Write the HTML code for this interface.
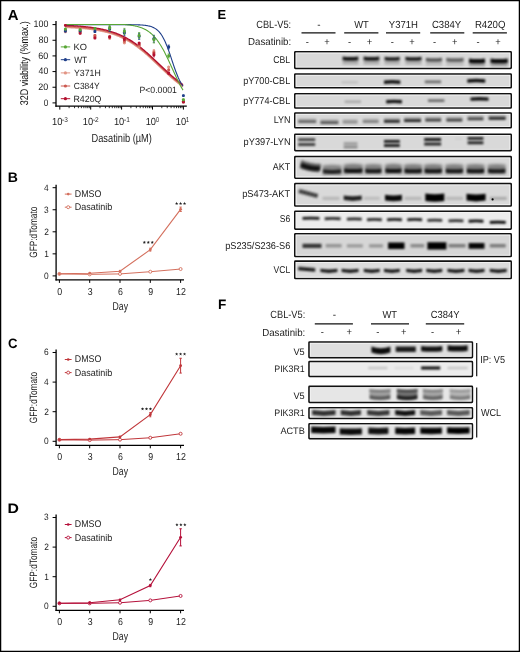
<!DOCTYPE html>
<html><head><meta charset="utf-8"><style>
html,body{margin:0;padding:0;background:#fff;}
svg{display:block;will-change:transform;}
text{font-family:"Liberation Sans", sans-serif;text-rendering:geometricPrecision;}
</style></head><body>
<svg width="520" height="652" viewBox="0 0 520 652">
<defs><filter id="b3" x="-30%" y="-100%" width="160%" height="300%"><feGaussianBlur stdDeviation="0.3"/></filter><filter id="b4" x="-30%" y="-100%" width="160%" height="300%"><feGaussianBlur stdDeviation="0.4"/></filter><filter id="b5" x="-30%" y="-100%" width="160%" height="300%"><feGaussianBlur stdDeviation="0.5"/></filter><filter id="b6" x="-30%" y="-100%" width="160%" height="300%"><feGaussianBlur stdDeviation="0.6"/></filter><filter id="b7" x="-30%" y="-100%" width="160%" height="300%"><feGaussianBlur stdDeviation="0.7"/></filter><filter id="b8" x="-30%" y="-100%" width="160%" height="300%"><feGaussianBlur stdDeviation="0.8"/></filter><filter id="b9" x="-30%" y="-100%" width="160%" height="300%"><feGaussianBlur stdDeviation="0.9"/></filter><filter id="b10" x="-30%" y="-100%" width="160%" height="300%"><feGaussianBlur stdDeviation="1.0"/></filter><filter id="b11" x="-30%" y="-100%" width="160%" height="300%"><feGaussianBlur stdDeviation="1.1"/></filter><filter id="b12" x="-30%" y="-100%" width="160%" height="300%"><feGaussianBlur stdDeviation="1.2"/></filter><filter id="b13" x="-30%" y="-100%" width="160%" height="300%"><feGaussianBlur stdDeviation="1.3"/></filter><filter id="b14" x="-30%" y="-100%" width="160%" height="300%"><feGaussianBlur stdDeviation="1.4"/></filter><filter id="b15" x="-30%" y="-100%" width="160%" height="300%"><feGaussianBlur stdDeviation="1.5"/></filter><filter id="b16" x="-30%" y="-100%" width="160%" height="300%"><feGaussianBlur stdDeviation="1.6"/></filter><filter id="b17" x="-30%" y="-100%" width="160%" height="300%"><feGaussianBlur stdDeviation="1.7"/></filter><filter id="b18" x="-30%" y="-100%" width="160%" height="300%"><feGaussianBlur stdDeviation="1.8"/></filter><filter id="b19" x="-30%" y="-100%" width="160%" height="300%"><feGaussianBlur stdDeviation="1.9"/></filter><filter id="b20" x="-30%" y="-100%" width="160%" height="300%"><feGaussianBlur stdDeviation="2.0"/></filter><filter id="b21" x="-30%" y="-100%" width="160%" height="300%"><feGaussianBlur stdDeviation="2.1"/></filter><filter id="b22" x="-30%" y="-100%" width="160%" height="300%"><feGaussianBlur stdDeviation="2.2"/></filter><filter id="b23" x="-30%" y="-100%" width="160%" height="300%"><feGaussianBlur stdDeviation="2.3"/></filter><filter id="b24" x="-30%" y="-100%" width="160%" height="300%"><feGaussianBlur stdDeviation="2.4"/></filter></defs>
<rect x="0" y="0" width="520" height="652" fill="#fff"/>
<text x="7.73" y="19.60" font-size="14.7" textLength="10.76" lengthAdjust="spacingAndGlyphs" font-weight="bold" fill="#000">A</text>
<line x1="56.00" y1="21.00" x2="56.00" y2="106.80" stroke="#000" stroke-width="1.3" />
<line x1="55.40" y1="106.20" x2="186.80" y2="106.20" stroke="#000" stroke-width="1.3" />
<line x1="52.50" y1="102.90" x2="56.00" y2="102.90" stroke="#000" stroke-width="1.0" />
<text x="43.78" y="105.65" font-size="9.45" textLength="4.54" lengthAdjust="spacingAndGlyphs" fill="#1c1c1c">0</text>
<line x1="52.50" y1="87.24" x2="56.00" y2="87.24" stroke="#000" stroke-width="1.0" />
<text x="38.35" y="89.99" font-size="9.45" textLength="10.00" lengthAdjust="spacingAndGlyphs" fill="#1c1c1c">20</text>
<line x1="52.50" y1="71.58" x2="56.00" y2="71.58" stroke="#000" stroke-width="1.0" />
<text x="38.60" y="74.33" font-size="9.45" textLength="9.74" lengthAdjust="spacingAndGlyphs" fill="#1c1c1c">40</text>
<line x1="52.50" y1="55.92" x2="56.00" y2="55.92" stroke="#000" stroke-width="1.0" />
<text x="38.34" y="58.67" font-size="9.45" textLength="10.01" lengthAdjust="spacingAndGlyphs" fill="#1c1c1c">60</text>
<line x1="52.50" y1="40.26" x2="56.00" y2="40.26" stroke="#000" stroke-width="1.0" />
<text x="38.41" y="43.01" font-size="9.45" textLength="9.94" lengthAdjust="spacingAndGlyphs" fill="#1c1c1c">80</text>
<line x1="52.50" y1="24.60" x2="56.00" y2="24.60" stroke="#000" stroke-width="1.0" />
<text x="33.52" y="27.35" font-size="9.45" textLength="14.82" lengthAdjust="spacingAndGlyphs" fill="#1c1c1c">100</text>
<line x1="59.80" y1="106.20" x2="59.80" y2="109.60" stroke="#000" stroke-width="1.0" />
<line x1="69.10" y1="106.20" x2="69.10" y2="108.20" stroke="#000" stroke-width="0.8" />
<line x1="74.54" y1="106.20" x2="74.54" y2="108.20" stroke="#000" stroke-width="0.8" />
<line x1="78.40" y1="106.20" x2="78.40" y2="108.20" stroke="#000" stroke-width="0.8" />
<line x1="81.40" y1="106.20" x2="81.40" y2="108.20" stroke="#000" stroke-width="0.8" />
<line x1="83.84" y1="106.20" x2="83.84" y2="108.20" stroke="#000" stroke-width="0.8" />
<line x1="85.91" y1="106.20" x2="85.91" y2="108.20" stroke="#000" stroke-width="0.8" />
<line x1="87.71" y1="106.20" x2="87.71" y2="108.20" stroke="#000" stroke-width="0.8" />
<line x1="89.29" y1="106.20" x2="89.29" y2="108.20" stroke="#000" stroke-width="0.8" />
<text x="51.99" y="125.40" font-size="10.29" textLength="10.37" lengthAdjust="spacingAndGlyphs" fill="#1c1c1c">10</text>
<text x="62.11" y="121.60" font-size="7.14" textLength="5.77" lengthAdjust="spacingAndGlyphs" fill="#1c1c1c">-3</text>
<line x1="90.70" y1="106.20" x2="90.70" y2="109.60" stroke="#000" stroke-width="1.0" />
<line x1="100.00" y1="106.20" x2="100.00" y2="108.20" stroke="#000" stroke-width="0.8" />
<line x1="105.44" y1="106.20" x2="105.44" y2="108.20" stroke="#000" stroke-width="0.8" />
<line x1="109.30" y1="106.20" x2="109.30" y2="108.20" stroke="#000" stroke-width="0.8" />
<line x1="112.30" y1="106.20" x2="112.30" y2="108.20" stroke="#000" stroke-width="0.8" />
<line x1="114.74" y1="106.20" x2="114.74" y2="108.20" stroke="#000" stroke-width="0.8" />
<line x1="116.81" y1="106.20" x2="116.81" y2="108.20" stroke="#000" stroke-width="0.8" />
<line x1="118.61" y1="106.20" x2="118.61" y2="108.20" stroke="#000" stroke-width="0.8" />
<line x1="120.19" y1="106.20" x2="120.19" y2="108.20" stroke="#000" stroke-width="0.8" />
<text x="82.79" y="125.40" font-size="10.29" textLength="10.37" lengthAdjust="spacingAndGlyphs" fill="#1c1c1c">10</text>
<text x="92.91" y="121.60" font-size="7.14" textLength="5.82" lengthAdjust="spacingAndGlyphs" fill="#1c1c1c">-2</text>
<line x1="121.60" y1="106.20" x2="121.60" y2="109.60" stroke="#000" stroke-width="1.0" />
<line x1="130.90" y1="106.20" x2="130.90" y2="108.20" stroke="#000" stroke-width="0.8" />
<line x1="136.34" y1="106.20" x2="136.34" y2="108.20" stroke="#000" stroke-width="0.8" />
<line x1="140.20" y1="106.20" x2="140.20" y2="108.20" stroke="#000" stroke-width="0.8" />
<line x1="143.20" y1="106.20" x2="143.20" y2="108.20" stroke="#000" stroke-width="0.8" />
<line x1="145.64" y1="106.20" x2="145.64" y2="108.20" stroke="#000" stroke-width="0.8" />
<line x1="147.71" y1="106.20" x2="147.71" y2="108.20" stroke="#000" stroke-width="0.8" />
<line x1="149.51" y1="106.20" x2="149.51" y2="108.20" stroke="#000" stroke-width="0.8" />
<line x1="151.09" y1="106.20" x2="151.09" y2="108.20" stroke="#000" stroke-width="0.8" />
<text x="113.89" y="125.40" font-size="10.29" textLength="10.37" lengthAdjust="spacingAndGlyphs" fill="#1c1c1c">10</text>
<text x="124.01" y="121.60" font-size="7.14" textLength="5.81" lengthAdjust="spacingAndGlyphs" fill="#1c1c1c">-1</text>
<line x1="152.50" y1="106.20" x2="152.50" y2="109.60" stroke="#000" stroke-width="1.0" />
<line x1="161.80" y1="106.20" x2="161.80" y2="108.20" stroke="#000" stroke-width="0.8" />
<line x1="167.24" y1="106.20" x2="167.24" y2="108.20" stroke="#000" stroke-width="0.8" />
<line x1="171.10" y1="106.20" x2="171.10" y2="108.20" stroke="#000" stroke-width="0.8" />
<line x1="174.10" y1="106.20" x2="174.10" y2="108.20" stroke="#000" stroke-width="0.8" />
<line x1="176.54" y1="106.20" x2="176.54" y2="108.20" stroke="#000" stroke-width="0.8" />
<line x1="178.61" y1="106.20" x2="178.61" y2="108.20" stroke="#000" stroke-width="0.8" />
<line x1="180.41" y1="106.20" x2="180.41" y2="108.20" stroke="#000" stroke-width="0.8" />
<line x1="181.99" y1="106.20" x2="181.99" y2="108.20" stroke="#000" stroke-width="0.8" />
<text x="145.69" y="125.40" font-size="10.29" textLength="10.37" lengthAdjust="spacingAndGlyphs" fill="#1c1c1c">10</text>
<text x="155.89" y="121.60" font-size="7.14" textLength="3.02" lengthAdjust="spacingAndGlyphs" fill="#1c1c1c">0</text>
<line x1="183.40" y1="106.20" x2="183.40" y2="109.60" stroke="#000" stroke-width="1.0" />
<text x="175.79" y="125.40" font-size="10.29" textLength="10.37" lengthAdjust="spacingAndGlyphs" fill="#1c1c1c">10</text>
<text x="185.74" y="121.60" font-size="7.14" textLength="3.35" lengthAdjust="spacingAndGlyphs" fill="#1c1c1c">1</text>
<text x="91.54" y="141.90" font-size="11.76" textLength="60.33" lengthAdjust="spacingAndGlyphs" fill="#1c1c1c">Dasatinib (µM)</text>
<text transform="translate(28.0,63.2) rotate(-90)" x="0" y="0" font-size="11.2" text-anchor="middle" textLength="84" lengthAdjust="spacingAndGlyphs" fill="#111">32D viability (%max.)</text>
<text x="139.49" y="92.70" font-size="9.03" textLength="37.44" lengthAdjust="spacingAndGlyphs" fill="#1c1c1c">P&lt;0.0001</text>
<line x1="60.80" y1="46.90" x2="70.20" y2="46.90" stroke="#58a636" stroke-width="1.0" />
<circle cx="65.4" cy="46.9" r="1.6" fill="#58a636"/>
<text x="73.44" y="49.70" font-size="9.03" textLength="13.41" lengthAdjust="spacingAndGlyphs" fill="#1c1c1c">KO</text>
<line x1="60.80" y1="59.70" x2="70.20" y2="59.70" stroke="#1f3f8a" stroke-width="1.0" />
<circle cx="65.4" cy="59.7" r="1.6" fill="#1f3f8a"/>
<text x="74.16" y="62.50" font-size="9.03" textLength="12.93" lengthAdjust="spacingAndGlyphs" fill="#1c1c1c">WT</text>
<line x1="60.80" y1="72.90" x2="70.20" y2="72.90" stroke="#e29585" stroke-width="1.0" />
<circle cx="65.4" cy="72.9" r="1.6" fill="#e29585"/>
<text x="74.01" y="75.70" font-size="9.03" textLength="26.70" lengthAdjust="spacingAndGlyphs" fill="#1c1c1c">Y371H</text>
<line x1="60.80" y1="86.00" x2="70.20" y2="86.00" stroke="#cc5a50" stroke-width="1.0" />
<circle cx="65.4" cy="86.0" r="1.6" fill="#cc5a50"/>
<text x="73.77" y="88.80" font-size="9.03" textLength="25.92" lengthAdjust="spacingAndGlyphs" fill="#1c1c1c">C384Y</text>
<line x1="60.80" y1="98.70" x2="70.20" y2="98.70" stroke="#b3102f" stroke-width="1.0" />
<circle cx="65.4" cy="98.7" r="1.6" fill="#b3102f"/>
<text x="73.48" y="101.50" font-size="9.03" textLength="27.95" lengthAdjust="spacingAndGlyphs" fill="#1c1c1c">R420Q</text>
<path d="M65.40,25.88 L66.20,25.91 L67.00,25.94 L67.80,25.98 L68.60,26.01 L69.40,26.05 L70.20,26.09 L71.00,26.13 L71.80,26.17 L72.60,26.22 L73.40,26.26 L74.20,26.31 L75.00,26.36 L75.80,26.41 L76.60,26.46 L77.40,26.52 L78.20,26.57 L79.00,26.63 L79.80,26.69 L80.60,26.76 L81.40,26.82 L82.20,26.89 L83.00,26.96 L83.80,27.04 L84.60,27.11 L85.40,27.19 L86.20,27.28 L87.00,27.36 L87.80,27.45 L88.60,27.54 L89.40,27.64 L90.20,27.74 L91.00,27.84 L91.80,27.95 L92.60,28.06 L93.40,28.17 L94.20,28.29 L95.00,28.41 L95.80,28.54 L96.60,28.67 L97.40,28.81 L98.20,28.95 L99.00,29.10 L99.80,29.25 L100.60,29.41 L101.40,29.57 L102.20,29.74 L103.00,29.91 L103.80,30.09 L104.60,30.28 L105.40,30.47 L106.20,30.67 L107.00,30.88 L107.80,31.09 L108.60,31.31 L109.40,31.54 L110.20,31.78 L111.00,32.02 L111.80,32.27 L112.60,32.53 L113.40,32.80 L114.20,33.08 L115.00,33.36 L115.80,33.66 L116.60,33.96 L117.40,34.27 L118.20,34.59 L119.00,34.92 L119.80,35.26 L120.60,35.62 L121.40,35.98 L122.20,36.35 L123.00,36.73 L123.80,37.12 L124.60,37.53 L125.40,37.94 L126.20,38.37 L127.00,38.80 L127.80,39.25 L128.60,39.71 L129.40,40.18 L130.20,40.66 L131.00,41.15 L131.80,41.66 L132.60,42.17 L133.40,42.70 L134.20,43.24 L135.00,43.79 L135.80,44.35 L136.60,44.93 L137.40,45.51 L138.20,46.10 L139.00,46.71 L139.80,47.33 L140.60,47.95 L141.40,48.59 L142.20,49.24 L143.00,49.90 L143.80,50.56 L144.60,51.24 L145.40,51.93 L146.20,52.62 L147.00,53.32 L147.80,54.03 L148.60,54.75 L149.40,55.47 L150.20,56.20 L151.00,56.94 L151.80,57.68 L152.60,58.42 L153.40,59.17 L154.20,59.93 L155.00,60.69 L155.80,61.45 L156.60,62.21 L157.40,62.98 L158.20,63.74 L159.00,64.51 L159.80,65.28 L160.60,66.04 L161.40,66.81 L162.20,67.57 L163.00,68.33 L163.80,69.09 L164.60,69.84 L165.40,70.59 L166.20,71.33 L167.00,72.07 L167.80,72.81 L168.60,73.54 L169.40,74.26 L170.20,74.97 L171.00,75.68 L171.80,76.38 L172.60,77.07 L173.40,77.76 L174.20,78.43 L175.00,79.09 L175.80,79.75 L176.60,80.40 L177.40,81.03 L178.20,81.65 L179.00,82.27 L179.80,82.87 L180.60,83.46 L181.40,84.05 L182.20,84.62 L183.00,85.18" fill="none" stroke="#e29585" stroke-width="1.7" transform="translate(0,1.4)"/>
<path d="M65.40,25.88 L66.20,25.91 L67.00,25.94 L67.80,25.98 L68.60,26.01 L69.40,26.05 L70.20,26.09 L71.00,26.13 L71.80,26.17 L72.60,26.22 L73.40,26.26 L74.20,26.31 L75.00,26.36 L75.80,26.41 L76.60,26.46 L77.40,26.52 L78.20,26.57 L79.00,26.63 L79.80,26.69 L80.60,26.76 L81.40,26.82 L82.20,26.89 L83.00,26.96 L83.80,27.04 L84.60,27.11 L85.40,27.19 L86.20,27.28 L87.00,27.36 L87.80,27.45 L88.60,27.54 L89.40,27.64 L90.20,27.74 L91.00,27.84 L91.80,27.95 L92.60,28.06 L93.40,28.17 L94.20,28.29 L95.00,28.41 L95.80,28.54 L96.60,28.67 L97.40,28.81 L98.20,28.95 L99.00,29.10 L99.80,29.25 L100.60,29.41 L101.40,29.57 L102.20,29.74 L103.00,29.91 L103.80,30.09 L104.60,30.28 L105.40,30.47 L106.20,30.67 L107.00,30.88 L107.80,31.09 L108.60,31.31 L109.40,31.54 L110.20,31.78 L111.00,32.02 L111.80,32.27 L112.60,32.53 L113.40,32.80 L114.20,33.08 L115.00,33.36 L115.80,33.66 L116.60,33.96 L117.40,34.27 L118.20,34.59 L119.00,34.92 L119.80,35.26 L120.60,35.62 L121.40,35.98 L122.20,36.35 L123.00,36.73 L123.80,37.12 L124.60,37.53 L125.40,37.94 L126.20,38.37 L127.00,38.80 L127.80,39.25 L128.60,39.71 L129.40,40.18 L130.20,40.66 L131.00,41.15 L131.80,41.66 L132.60,42.17 L133.40,42.70 L134.20,43.24 L135.00,43.79 L135.80,44.35 L136.60,44.93 L137.40,45.51 L138.20,46.10 L139.00,46.71 L139.80,47.33 L140.60,47.95 L141.40,48.59 L142.20,49.24 L143.00,49.90 L143.80,50.56 L144.60,51.24 L145.40,51.93 L146.20,52.62 L147.00,53.32 L147.80,54.03 L148.60,54.75 L149.40,55.47 L150.20,56.20 L151.00,56.94 L151.80,57.68 L152.60,58.42 L153.40,59.17 L154.20,59.93 L155.00,60.69 L155.80,61.45 L156.60,62.21 L157.40,62.98 L158.20,63.74 L159.00,64.51 L159.80,65.28 L160.60,66.04 L161.40,66.81 L162.20,67.57 L163.00,68.33 L163.80,69.09 L164.60,69.84 L165.40,70.59 L166.20,71.33 L167.00,72.07 L167.80,72.81 L168.60,73.54 L169.40,74.26 L170.20,74.97 L171.00,75.68 L171.80,76.38 L172.60,77.07 L173.40,77.76 L174.20,78.43 L175.00,79.09 L175.80,79.75 L176.60,80.40 L177.40,81.03 L178.20,81.65 L179.00,82.27 L179.80,82.87 L180.60,83.46 L181.40,84.05 L182.20,84.62 L183.00,85.18" fill="none" stroke="#cc5a50" stroke-width="1.4" transform="translate(0,0.4)"/>
<path d="M65.40,25.88 L66.20,25.91 L67.00,25.94 L67.80,25.98 L68.60,26.01 L69.40,26.05 L70.20,26.09 L71.00,26.13 L71.80,26.17 L72.60,26.22 L73.40,26.26 L74.20,26.31 L75.00,26.36 L75.80,26.41 L76.60,26.46 L77.40,26.52 L78.20,26.57 L79.00,26.63 L79.80,26.69 L80.60,26.76 L81.40,26.82 L82.20,26.89 L83.00,26.96 L83.80,27.04 L84.60,27.11 L85.40,27.19 L86.20,27.28 L87.00,27.36 L87.80,27.45 L88.60,27.54 L89.40,27.64 L90.20,27.74 L91.00,27.84 L91.80,27.95 L92.60,28.06 L93.40,28.17 L94.20,28.29 L95.00,28.41 L95.80,28.54 L96.60,28.67 L97.40,28.81 L98.20,28.95 L99.00,29.10 L99.80,29.25 L100.60,29.41 L101.40,29.57 L102.20,29.74 L103.00,29.91 L103.80,30.09 L104.60,30.28 L105.40,30.47 L106.20,30.67 L107.00,30.88 L107.80,31.09 L108.60,31.31 L109.40,31.54 L110.20,31.78 L111.00,32.02 L111.80,32.27 L112.60,32.53 L113.40,32.80 L114.20,33.08 L115.00,33.36 L115.80,33.66 L116.60,33.96 L117.40,34.27 L118.20,34.59 L119.00,34.92 L119.80,35.26 L120.60,35.62 L121.40,35.98 L122.20,36.35 L123.00,36.73 L123.80,37.12 L124.60,37.53 L125.40,37.94 L126.20,38.37 L127.00,38.80 L127.80,39.25 L128.60,39.71 L129.40,40.18 L130.20,40.66 L131.00,41.15 L131.80,41.66 L132.60,42.17 L133.40,42.70 L134.20,43.24 L135.00,43.79 L135.80,44.35 L136.60,44.93 L137.40,45.51 L138.20,46.10 L139.00,46.71 L139.80,47.33 L140.60,47.95 L141.40,48.59 L142.20,49.24 L143.00,49.90 L143.80,50.56 L144.60,51.24 L145.40,51.93 L146.20,52.62 L147.00,53.32 L147.80,54.03 L148.60,54.75 L149.40,55.47 L150.20,56.20 L151.00,56.94 L151.80,57.68 L152.60,58.42 L153.40,59.17 L154.20,59.93 L155.00,60.69 L155.80,61.45 L156.60,62.21 L157.40,62.98 L158.20,63.74 L159.00,64.51 L159.80,65.28 L160.60,66.04 L161.40,66.81 L162.20,67.57 L163.00,68.33 L163.80,69.09 L164.60,69.84 L165.40,70.59 L166.20,71.33 L167.00,72.07 L167.80,72.81 L168.60,73.54 L169.40,74.26 L170.20,74.97 L171.00,75.68 L171.80,76.38 L172.60,77.07 L173.40,77.76 L174.20,78.43 L175.00,79.09 L175.80,79.75 L176.60,80.40 L177.40,81.03 L178.20,81.65 L179.00,82.27 L179.80,82.87 L180.60,83.46 L181.40,84.05 L182.20,84.62 L183.00,85.18" fill="none" stroke="#b3102f" stroke-width="1.3" transform="translate(0,-0.5)"/>
<path d="M65.40,24.60 L66.20,24.60 L67.00,24.60 L67.80,24.60 L68.60,24.60 L69.40,24.60 L70.20,24.60 L71.00,24.60 L71.80,24.60 L72.60,24.60 L73.40,24.60 L74.20,24.60 L75.00,24.60 L75.80,24.60 L76.60,24.60 L77.40,24.60 L78.20,24.60 L79.00,24.60 L79.80,24.60 L80.60,24.60 L81.40,24.60 L82.20,24.60 L83.00,24.60 L83.80,24.60 L84.60,24.60 L85.40,24.60 L86.20,24.60 L87.00,24.60 L87.80,24.60 L88.60,24.60 L89.40,24.60 L90.20,24.60 L91.00,24.60 L91.80,24.60 L92.60,24.60 L93.40,24.60 L94.20,24.60 L95.00,24.60 L95.80,24.60 L96.60,24.60 L97.40,24.60 L98.20,24.60 L99.00,24.60 L99.80,24.60 L100.60,24.60 L101.40,24.60 L102.20,24.60 L103.00,24.60 L103.80,24.60 L104.60,24.60 L105.40,24.60 L106.20,24.60 L107.00,24.60 L107.80,24.60 L108.60,24.60 L109.40,24.60 L110.20,24.60 L111.00,24.60 L111.80,24.60 L112.60,24.60 L113.40,24.60 L114.20,24.60 L115.00,24.60 L115.80,24.60 L116.60,24.61 L117.40,24.61 L118.20,24.61 L119.00,24.61 L119.80,24.61 L120.60,24.61 L121.40,24.61 L122.20,24.61 L123.00,24.62 L123.80,24.62 L124.60,24.62 L125.40,24.63 L126.20,24.63 L127.00,24.63 L127.80,24.64 L128.60,24.64 L129.40,24.65 L130.20,24.66 L131.00,24.67 L131.80,24.68 L132.60,24.69 L133.40,24.70 L134.20,24.72 L135.00,24.73 L135.80,24.75 L136.60,24.77 L137.40,24.80 L138.20,24.83 L139.00,24.86 L139.80,24.90 L140.60,24.94 L141.40,24.99 L142.20,25.05 L143.00,25.11 L143.80,25.19 L144.60,25.27 L145.40,25.37 L146.20,25.48 L147.00,25.61 L147.80,25.75 L148.60,25.92 L149.40,26.11 L150.20,26.32 L151.00,26.57 L151.80,26.85 L152.60,27.16 L153.40,27.52 L154.20,27.93 L155.00,28.39 L155.80,28.91 L156.60,29.50 L157.40,30.15 L158.20,30.89 L159.00,31.72 L159.80,32.64 L160.60,33.67 L161.40,34.80 L162.20,36.05 L163.00,37.42 L163.80,38.92 L164.60,40.54 L165.40,42.29 L166.20,44.16 L167.00,46.14 L167.80,48.24 L168.60,50.43 L169.40,52.71 L170.20,55.05 L171.00,57.43 L171.80,59.83 L172.60,62.24 L173.40,64.62 L174.20,66.97 L175.00,69.25 L175.80,71.44 L176.60,73.55 L177.40,75.54 L178.20,77.42 L179.00,79.18 L179.80,80.81 L180.60,82.31 L181.40,83.69 L182.20,84.95 L183.00,86.09" fill="none" stroke="#1f3f8a" stroke-width="1.1"/>
<path d="M65.40,24.44 L66.20,24.44 L67.00,24.44 L67.80,24.44 L68.60,24.44 L69.40,24.44 L70.20,24.44 L71.00,24.44 L71.80,24.44 L72.60,24.44 L73.40,24.44 L74.20,24.44 L75.00,24.44 L75.80,24.44 L76.60,24.44 L77.40,24.44 L78.20,24.44 L79.00,24.44 L79.80,24.44 L80.60,24.44 L81.40,24.44 L82.20,24.44 L83.00,24.44 L83.80,24.44 L84.60,24.44 L85.40,24.44 L86.20,24.44 L87.00,24.44 L87.80,24.44 L88.60,24.44 L89.40,24.44 L90.20,24.44 L91.00,24.44 L91.80,24.44 L92.60,24.44 L93.40,24.44 L94.20,24.44 L95.00,24.44 L95.80,24.44 L96.60,24.44 L97.40,24.44 L98.20,24.44 L99.00,24.44 L99.80,24.44 L100.60,24.44 L101.40,24.44 L102.20,24.44 L103.00,24.44 L103.80,24.44 L104.60,24.44 L105.40,24.44 L106.20,24.44 L107.00,24.44 L107.80,24.44 L108.60,24.44 L109.40,24.44 L110.20,24.44 L111.00,24.44 L111.80,24.44 L112.60,24.44 L113.40,24.44 L114.20,24.44 L115.00,24.44 L115.80,24.44 L116.60,24.44 L117.40,24.44 L118.20,24.44 L119.00,24.44 L119.80,24.44 L120.60,24.44 L121.40,24.44 L122.20,24.44 L123.00,24.44 L123.80,24.49 L124.60,24.55 L125.40,24.61 L126.20,24.68 L127.00,24.76 L127.80,24.84 L128.60,24.93 L129.40,25.02 L130.20,25.12 L131.00,25.23 L131.80,25.35 L132.60,25.48 L133.40,25.62 L134.20,25.77 L135.00,25.93 L135.80,26.10 L136.60,26.29 L137.40,26.49 L138.20,26.71 L139.00,26.95 L139.80,27.20 L140.60,27.47 L141.40,27.77 L142.20,28.08 L143.00,28.42 L143.80,28.78 L144.60,29.17 L145.40,29.59 L146.20,30.04 L147.00,30.52 L147.80,31.03 L148.60,31.58 L149.40,32.17 L150.20,32.79 L151.00,33.46 L151.80,34.17 L152.60,34.92 L153.40,35.72 L154.20,36.57 L155.00,37.47 L155.80,38.42 L156.60,39.42 L157.40,40.47 L158.20,41.58 L159.00,42.74 L159.80,43.95 L160.60,45.22 L161.40,46.54 L162.20,47.91 L163.00,49.34 L163.80,50.81 L164.60,52.33 L165.40,53.90 L166.20,55.50 L167.00,57.14 L167.80,58.82 L168.60,60.52 L169.40,62.24 L170.20,63.99 L171.00,65.75 L171.80,67.51 L172.60,69.28 L173.40,71.04 L174.20,72.80 L175.00,74.54 L175.80,76.26 L176.60,77.95 L177.40,79.62 L178.20,81.25 L179.00,82.84 L179.80,84.40 L180.60,85.90 L181.40,87.37 L182.20,88.78 L183.00,90.14" fill="none" stroke="#58a636" stroke-width="1.1"/>
<rect x="64.95" y="30.80" width="0.9" height="2.00" fill="#e29585" opacity="0.85"/>
<rect x="63.95" y="30.35" width="2.9" height="2.9" rx="1.0" fill="#e29585"/>
<rect x="79.70" y="31.43" width="0.9" height="2.00" fill="#e29585" opacity="0.85"/>
<rect x="78.70" y="30.98" width="2.9" height="2.9" rx="1.0" fill="#e29585"/>
<rect x="94.45" y="35.50" width="0.9" height="2.00" fill="#e29585" opacity="0.85"/>
<rect x="93.45" y="35.05" width="2.9" height="2.9" rx="1.0" fill="#e29585"/>
<rect x="109.20" y="36.72" width="0.9" height="3.00" fill="#e29585" opacity="0.85"/>
<rect x="108.20" y="36.77" width="2.9" height="2.9" rx="1.0" fill="#e29585"/>
<rect x="123.95" y="41.27" width="0.9" height="3.00" fill="#e29585" opacity="0.85"/>
<rect x="122.95" y="41.32" width="2.9" height="2.9" rx="1.0" fill="#e29585"/>
<rect x="138.70" y="44.71" width="0.9" height="3.00" fill="#e29585" opacity="0.85"/>
<rect x="137.70" y="44.76" width="2.9" height="2.9" rx="1.0" fill="#e29585"/>
<rect x="153.45" y="49.46" width="0.9" height="4.00" fill="#e29585" opacity="0.85"/>
<rect x="152.80" y="49.11" width="2.2" height="0.7" fill="#e29585"/>
<rect x="152.80" y="53.11" width="2.2" height="0.7" fill="#e29585"/>
<rect x="152.45" y="50.01" width="2.9" height="2.9" rx="1.0" fill="#e29585"/>
<rect x="168.20" y="65.62" width="0.9" height="3.00" fill="#e29585" opacity="0.85"/>
<rect x="167.20" y="65.67" width="2.9" height="2.9" rx="1.0" fill="#e29585"/>
<rect x="182.95" y="100.33" width="0.9" height="2.00" fill="#e29585" opacity="0.85"/>
<rect x="181.95" y="99.88" width="2.9" height="2.9" rx="1.0" fill="#e29585"/>
<rect x="64.95" y="29.08" width="0.9" height="2.00" fill="#cc5a50" opacity="0.85"/>
<rect x="63.95" y="28.63" width="2.9" height="2.9" rx="1.0" fill="#cc5a50"/>
<rect x="79.70" y="30.65" width="0.9" height="2.00" fill="#cc5a50" opacity="0.85"/>
<rect x="78.70" y="30.20" width="2.9" height="2.9" rx="1.0" fill="#cc5a50"/>
<rect x="94.45" y="34.56" width="0.9" height="2.00" fill="#cc5a50" opacity="0.85"/>
<rect x="93.45" y="34.11" width="2.9" height="2.9" rx="1.0" fill="#cc5a50"/>
<rect x="109.20" y="34.84" width="0.9" height="3.00" fill="#cc5a50" opacity="0.85"/>
<rect x="108.20" y="34.89" width="2.9" height="2.9" rx="1.0" fill="#cc5a50"/>
<rect x="123.95" y="39.54" width="0.9" height="3.00" fill="#cc5a50" opacity="0.85"/>
<rect x="122.95" y="39.59" width="2.9" height="2.9" rx="1.0" fill="#cc5a50"/>
<rect x="138.70" y="43.46" width="0.9" height="3.00" fill="#cc5a50" opacity="0.85"/>
<rect x="137.70" y="43.51" width="2.9" height="2.9" rx="1.0" fill="#cc5a50"/>
<rect x="153.45" y="51.18" width="0.9" height="4.00" fill="#cc5a50" opacity="0.85"/>
<rect x="152.80" y="50.83" width="2.2" height="0.7" fill="#cc5a50"/>
<rect x="152.80" y="54.83" width="2.2" height="0.7" fill="#cc5a50"/>
<rect x="152.45" y="51.73" width="2.9" height="2.9" rx="1.0" fill="#cc5a50"/>
<rect x="168.20" y="68.51" width="0.9" height="3.00" fill="#cc5a50" opacity="0.85"/>
<rect x="167.20" y="68.56" width="2.9" height="2.9" rx="1.0" fill="#cc5a50"/>
<rect x="182.95" y="100.73" width="0.9" height="2.00" fill="#cc5a50" opacity="0.85"/>
<rect x="181.95" y="100.28" width="2.9" height="2.9" rx="1.0" fill="#cc5a50"/>
<rect x="64.95" y="24.38" width="0.9" height="2.00" fill="#b3102f" opacity="0.85"/>
<rect x="63.95" y="23.93" width="2.9" height="2.9" rx="1.0" fill="#b3102f"/>
<rect x="79.70" y="32.37" width="0.9" height="2.00" fill="#b3102f" opacity="0.85"/>
<rect x="78.70" y="31.92" width="2.9" height="2.9" rx="1.0" fill="#b3102f"/>
<rect x="94.45" y="36.99" width="0.9" height="2.00" fill="#b3102f" opacity="0.85"/>
<rect x="93.45" y="36.54" width="2.9" height="2.9" rx="1.0" fill="#b3102f"/>
<rect x="109.20" y="35.63" width="0.9" height="3.00" fill="#b3102f" opacity="0.85"/>
<rect x="108.20" y="35.68" width="2.9" height="2.9" rx="1.0" fill="#b3102f"/>
<rect x="123.95" y="37.82" width="0.9" height="3.00" fill="#b3102f" opacity="0.85"/>
<rect x="122.95" y="37.87" width="2.9" height="2.9" rx="1.0" fill="#b3102f"/>
<rect x="138.70" y="41.81" width="0.9" height="3.00" fill="#b3102f" opacity="0.85"/>
<rect x="137.70" y="41.86" width="2.9" height="2.9" rx="1.0" fill="#b3102f"/>
<rect x="153.45" y="52.90" width="0.9" height="4.00" fill="#b3102f" opacity="0.85"/>
<rect x="152.80" y="52.55" width="2.2" height="0.7" fill="#b3102f"/>
<rect x="152.80" y="56.55" width="2.2" height="0.7" fill="#b3102f"/>
<rect x="152.45" y="53.45" width="2.9" height="2.9" rx="1.0" fill="#b3102f"/>
<rect x="168.20" y="71.80" width="0.9" height="3.00" fill="#b3102f" opacity="0.85"/>
<rect x="167.20" y="71.85" width="2.9" height="2.9" rx="1.0" fill="#b3102f"/>
<rect x="182.95" y="100.96" width="0.9" height="2.00" fill="#b3102f" opacity="0.85"/>
<rect x="181.95" y="100.51" width="2.9" height="2.9" rx="1.0" fill="#b3102f"/>
<rect x="64.95" y="29.60" width="0.9" height="3.00" fill="#1f3f8a" opacity="0.85"/>
<rect x="63.95" y="29.65" width="2.9" height="2.9" rx="1.0" fill="#1f3f8a"/>
<rect x="79.70" y="29.36" width="0.9" height="3.00" fill="#1f3f8a" opacity="0.85"/>
<rect x="78.70" y="29.41" width="2.9" height="2.9" rx="1.0" fill="#1f3f8a"/>
<rect x="94.45" y="29.99" width="0.9" height="3.00" fill="#1f3f8a" opacity="0.85"/>
<rect x="93.45" y="30.04" width="2.9" height="2.9" rx="1.0" fill="#1f3f8a"/>
<rect x="109.20" y="26.41" width="0.9" height="5.00" fill="#1f3f8a" opacity="0.85"/>
<rect x="108.55" y="26.06" width="2.2" height="0.7" fill="#1f3f8a"/>
<rect x="108.55" y="31.06" width="2.2" height="0.7" fill="#1f3f8a"/>
<rect x="108.20" y="27.46" width="2.9" height="2.9" rx="1.0" fill="#1f3f8a"/>
<rect x="123.95" y="29.82" width="0.9" height="6.00" fill="#1f3f8a" opacity="0.85"/>
<rect x="123.30" y="29.47" width="2.2" height="0.7" fill="#1f3f8a"/>
<rect x="123.30" y="35.47" width="2.2" height="0.7" fill="#1f3f8a"/>
<rect x="122.95" y="31.37" width="2.9" height="2.9" rx="1.0" fill="#1f3f8a"/>
<rect x="138.70" y="33.34" width="0.9" height="6.00" fill="#1f3f8a" opacity="0.85"/>
<rect x="138.05" y="32.99" width="2.2" height="0.7" fill="#1f3f8a"/>
<rect x="138.05" y="38.99" width="2.2" height="0.7" fill="#1f3f8a"/>
<rect x="137.70" y="34.89" width="2.9" height="2.9" rx="1.0" fill="#1f3f8a"/>
<rect x="153.45" y="35.19" width="0.9" height="7.00" fill="#1f3f8a" opacity="0.85"/>
<rect x="152.80" y="34.84" width="2.2" height="0.7" fill="#1f3f8a"/>
<rect x="152.80" y="41.84" width="2.2" height="0.7" fill="#1f3f8a"/>
<rect x="152.45" y="37.24" width="2.9" height="2.9" rx="1.0" fill="#1f3f8a"/>
<rect x="168.20" y="44.99" width="0.9" height="4.00" fill="#1f3f8a" opacity="0.85"/>
<rect x="167.55" y="44.64" width="2.2" height="0.7" fill="#1f3f8a"/>
<rect x="167.55" y="48.64" width="2.2" height="0.7" fill="#1f3f8a"/>
<rect x="167.20" y="45.54" width="2.9" height="2.9" rx="1.0" fill="#1f3f8a"/>
<rect x="182.95" y="94.62" width="0.9" height="2.00" fill="#1f3f8a" opacity="0.85"/>
<rect x="181.95" y="94.17" width="2.9" height="2.9" rx="1.0" fill="#1f3f8a"/>
<rect x="64.95" y="27.64" width="0.9" height="3.00" fill="#58a636" opacity="0.85"/>
<rect x="63.95" y="27.69" width="2.9" height="2.9" rx="1.0" fill="#58a636"/>
<rect x="79.70" y="28.19" width="0.9" height="3.00" fill="#58a636" opacity="0.85"/>
<rect x="78.70" y="28.24" width="2.9" height="2.9" rx="1.0" fill="#58a636"/>
<rect x="94.45" y="27.02" width="0.9" height="3.00" fill="#58a636" opacity="0.85"/>
<rect x="93.45" y="27.07" width="2.9" height="2.9" rx="1.0" fill="#58a636"/>
<rect x="109.20" y="25.23" width="0.9" height="5.00" fill="#58a636" opacity="0.85"/>
<rect x="108.55" y="24.88" width="2.2" height="0.7" fill="#58a636"/>
<rect x="108.55" y="29.88" width="2.2" height="0.7" fill="#58a636"/>
<rect x="108.20" y="26.28" width="2.9" height="2.9" rx="1.0" fill="#58a636"/>
<rect x="123.95" y="28.26" width="0.9" height="6.00" fill="#58a636" opacity="0.85"/>
<rect x="123.30" y="27.91" width="2.2" height="0.7" fill="#58a636"/>
<rect x="123.30" y="33.91" width="2.2" height="0.7" fill="#58a636"/>
<rect x="122.95" y="29.81" width="2.9" height="2.9" rx="1.0" fill="#58a636"/>
<rect x="138.70" y="32.56" width="0.9" height="6.00" fill="#58a636" opacity="0.85"/>
<rect x="138.05" y="32.21" width="2.2" height="0.7" fill="#58a636"/>
<rect x="138.05" y="38.21" width="2.2" height="0.7" fill="#58a636"/>
<rect x="137.70" y="34.11" width="2.9" height="2.9" rx="1.0" fill="#58a636"/>
<rect x="153.45" y="35.98" width="0.9" height="7.00" fill="#58a636" opacity="0.85"/>
<rect x="152.80" y="35.63" width="2.2" height="0.7" fill="#58a636"/>
<rect x="152.80" y="42.63" width="2.2" height="0.7" fill="#58a636"/>
<rect x="152.45" y="38.03" width="2.9" height="2.9" rx="1.0" fill="#58a636"/>
<rect x="168.20" y="53.92" width="0.9" height="4.00" fill="#58a636" opacity="0.85"/>
<rect x="167.55" y="53.57" width="2.2" height="0.7" fill="#58a636"/>
<rect x="167.55" y="57.57" width="2.2" height="0.7" fill="#58a636"/>
<rect x="167.20" y="54.47" width="2.9" height="2.9" rx="1.0" fill="#58a636"/>
<rect x="182.95" y="98.77" width="0.9" height="2.00" fill="#58a636" opacity="0.85"/>
<rect x="181.95" y="98.32" width="2.9" height="2.9" rx="1.0" fill="#58a636"/>
<text x="7.66" y="182.20" font-size="13.65" textLength="10.18" lengthAdjust="spacingAndGlyphs" font-weight="bold" fill="#000">B</text>
<line x1="56.10" y1="184.70" x2="56.10" y2="280.50" stroke="#000" stroke-width="1.3" />
<line x1="55.50" y1="279.90" x2="184.00" y2="279.90" stroke="#000" stroke-width="1.3" />
<line x1="52.60" y1="275.90" x2="56.10" y2="275.90" stroke="#000" stroke-width="1.0" />
<text x="44.08" y="278.75" font-size="9.24" textLength="4.65" lengthAdjust="spacingAndGlyphs" fill="#1c1c1c">0</text>
<line x1="52.60" y1="253.85" x2="56.10" y2="253.85" stroke="#000" stroke-width="1.0" />
<text x="44.16" y="256.70" font-size="9.24" textLength="4.65" lengthAdjust="spacingAndGlyphs" fill="#1c1c1c">1</text>
<line x1="52.60" y1="231.80" x2="56.10" y2="231.80" stroke="#000" stroke-width="1.0" />
<text x="44.17" y="234.65" font-size="9.24" textLength="4.65" lengthAdjust="spacingAndGlyphs" fill="#1c1c1c">2</text>
<line x1="52.60" y1="209.75" x2="56.10" y2="209.75" stroke="#000" stroke-width="1.0" />
<text x="44.12" y="212.60" font-size="9.24" textLength="4.65" lengthAdjust="spacingAndGlyphs" fill="#1c1c1c">3</text>
<line x1="52.60" y1="187.70" x2="56.10" y2="187.70" stroke="#000" stroke-width="1.0" />
<text x="44.00" y="190.55" font-size="9.24" textLength="4.65" lengthAdjust="spacingAndGlyphs" fill="#1c1c1c">4</text>
<line x1="59.40" y1="279.90" x2="59.40" y2="282.90" stroke="#000" stroke-width="1.0" />
<text x="57.34" y="295.00" font-size="10.08" textLength="4.91" lengthAdjust="spacingAndGlyphs" fill="#1c1c1c">0</text>
<line x1="89.70" y1="279.90" x2="89.70" y2="282.90" stroke="#000" stroke-width="1.0" />
<text x="87.67" y="295.00" font-size="10.08" textLength="4.91" lengthAdjust="spacingAndGlyphs" fill="#1c1c1c">3</text>
<line x1="120.00" y1="279.90" x2="120.00" y2="282.90" stroke="#000" stroke-width="1.0" />
<text x="117.91" y="295.00" font-size="10.08" textLength="4.91" lengthAdjust="spacingAndGlyphs" fill="#1c1c1c">6</text>
<line x1="150.30" y1="279.90" x2="150.30" y2="282.90" stroke="#000" stroke-width="1.0" />
<text x="148.25" y="295.00" font-size="10.08" textLength="4.91" lengthAdjust="spacingAndGlyphs" fill="#1c1c1c">9</text>
<line x1="180.60" y1="279.90" x2="180.60" y2="282.90" stroke="#000" stroke-width="1.0" />
<text x="175.97" y="295.00" font-size="10.08" textLength="9.82" lengthAdjust="spacingAndGlyphs" fill="#1c1c1c">12</text>
<text x="112.59" y="309.80" font-size="11.45" textLength="15.43" lengthAdjust="spacingAndGlyphs" fill="#1c1c1c">Day</text>
<text transform="translate(36.5,232.20) rotate(-90)" x="0" y="0" font-size="10.6" text-anchor="middle" textLength="51.2" lengthAdjust="spacingAndGlyphs" fill="#111">GFP:dTomato</text>
<line x1="64.80" y1="194.10" x2="71.60" y2="194.10" stroke="#d4705e" stroke-width="1.0" />
<circle cx="68.2" cy="194.10" r="1.3" fill="#d4705e"/>
<text x="74.87" y="197.00" font-size="9.77" textLength="26.55" lengthAdjust="spacingAndGlyphs" fill="#1c1c1c">DMSO</text>
<line x1="64.80" y1="207.20" x2="71.60" y2="207.20" stroke="#d4705e" stroke-width="1.0" />
<circle cx="68.2" cy="207.20" r="1.5" fill="#fff" stroke="#d4705e" stroke-width="0.9"/>
<text x="74.86" y="210.10" font-size="9.77" textLength="37.52" lengthAdjust="spacingAndGlyphs" fill="#1c1c1c">Dasatinib</text>
<polyline points="59.40,273.92 89.70,274.36 120.00,273.92 150.30,271.71 180.60,269.06" fill="none" stroke="#d4705e" stroke-width="1.0"/>
<polyline points="59.40,273.81 89.70,273.25 120.00,271.27 150.30,249.66 180.60,209.31" fill="none" stroke="#d4705e" stroke-width="1.1"/>
<circle cx="59.40" cy="273.92" r="1.5" fill="#fff" stroke="#d4705e" stroke-width="0.9"/>
<circle cx="89.70" cy="274.36" r="1.5" fill="#fff" stroke="#d4705e" stroke-width="0.9"/>
<circle cx="120.00" cy="273.92" r="1.5" fill="#fff" stroke="#d4705e" stroke-width="0.9"/>
<circle cx="150.30" cy="271.71" r="1.5" fill="#fff" stroke="#d4705e" stroke-width="0.9"/>
<circle cx="180.60" cy="269.06" r="1.5" fill="#fff" stroke="#d4705e" stroke-width="0.9"/>
<circle cx="59.40" cy="273.81" r="1.4" fill="#d4705e"/>
<circle cx="89.70" cy="273.25" r="1.4" fill="#d4705e"/>
<circle cx="120.00" cy="271.27" r="1.4" fill="#d4705e"/>
<circle cx="150.30" cy="249.66" r="1.4" fill="#d4705e"/>
<circle cx="180.60" cy="209.31" r="1.4" fill="#d4705e"/>
<line x1="180.60" y1="207.10" x2="180.60" y2="211.51" stroke="#d4705e" stroke-width="1.0" />
<line x1="179.40" y1="207.10" x2="181.80" y2="207.10" stroke="#d4705e" stroke-width="1.0" />
<line x1="179.40" y1="211.51" x2="181.80" y2="211.51" stroke="#d4705e" stroke-width="1.0" />
<line x1="150.30" y1="248.12" x2="150.30" y2="251.20" stroke="#d4705e" stroke-width="1.0" />
<line x1="149.30" y1="248.12" x2="151.30" y2="248.12" stroke="#d4705e" stroke-width="0.9" />
<line x1="149.30" y1="251.20" x2="151.30" y2="251.20" stroke="#d4705e" stroke-width="0.9" />
<polygon points="144.35,240.70 144.79,241.79 145.97,241.87 145.06,242.63 145.35,243.78 144.35,243.15 143.35,243.78 143.64,242.63 142.73,241.87 143.91,241.79" fill="#222"/>
<polygon points="148.30,240.70 148.74,241.79 149.92,241.87 149.01,242.63 149.30,243.78 148.30,243.15 147.30,243.78 147.59,242.63 146.68,241.87 147.86,241.79" fill="#222"/>
<polygon points="152.25,240.70 152.69,241.79 153.87,241.87 152.96,242.63 153.25,243.78 152.25,243.15 151.25,243.78 151.54,242.63 150.63,241.87 151.81,241.79" fill="#222"/>
<polygon points="176.65,201.80 177.09,202.89 178.27,202.97 177.36,203.73 177.65,204.88 176.65,204.25 175.65,204.88 175.94,203.73 175.03,202.97 176.21,202.89" fill="#222"/>
<polygon points="180.60,201.80 181.04,202.89 182.22,202.97 181.31,203.73 181.60,204.88 180.60,204.25 179.60,204.88 179.89,203.73 178.98,202.97 180.16,202.89" fill="#222"/>
<polygon points="184.55,201.80 184.99,202.89 186.17,202.97 185.26,203.73 185.55,204.88 184.55,204.25 183.55,204.88 183.84,203.73 182.93,202.97 184.11,202.89" fill="#222"/>
<text x="8.06" y="347.60" font-size="13.65" textLength="9.50" lengthAdjust="spacingAndGlyphs" font-weight="bold" fill="#000">C</text>
<line x1="56.10" y1="349.50" x2="56.10" y2="445.90" stroke="#000" stroke-width="1.3" />
<line x1="55.50" y1="445.30" x2="184.00" y2="445.30" stroke="#000" stroke-width="1.3" />
<line x1="52.60" y1="441.30" x2="56.10" y2="441.30" stroke="#000" stroke-width="1.0" />
<text x="44.08" y="444.15" font-size="9.24" textLength="4.65" lengthAdjust="spacingAndGlyphs" fill="#1c1c1c">0</text>
<line x1="52.60" y1="411.70" x2="56.10" y2="411.70" stroke="#000" stroke-width="1.0" />
<text x="44.17" y="414.55" font-size="9.24" textLength="4.65" lengthAdjust="spacingAndGlyphs" fill="#1c1c1c">2</text>
<line x1="52.60" y1="382.10" x2="56.10" y2="382.10" stroke="#000" stroke-width="1.0" />
<text x="44.00" y="384.95" font-size="9.24" textLength="4.65" lengthAdjust="spacingAndGlyphs" fill="#1c1c1c">4</text>
<line x1="52.60" y1="352.50" x2="56.10" y2="352.50" stroke="#000" stroke-width="1.0" />
<text x="44.12" y="355.35" font-size="9.24" textLength="4.65" lengthAdjust="spacingAndGlyphs" fill="#1c1c1c">6</text>
<line x1="59.40" y1="445.30" x2="59.40" y2="448.30" stroke="#000" stroke-width="1.0" />
<text x="57.34" y="460.40" font-size="10.08" textLength="4.91" lengthAdjust="spacingAndGlyphs" fill="#1c1c1c">0</text>
<line x1="89.70" y1="445.30" x2="89.70" y2="448.30" stroke="#000" stroke-width="1.0" />
<text x="87.67" y="460.40" font-size="10.08" textLength="4.91" lengthAdjust="spacingAndGlyphs" fill="#1c1c1c">3</text>
<line x1="120.00" y1="445.30" x2="120.00" y2="448.30" stroke="#000" stroke-width="1.0" />
<text x="117.91" y="460.40" font-size="10.08" textLength="4.91" lengthAdjust="spacingAndGlyphs" fill="#1c1c1c">6</text>
<line x1="150.30" y1="445.30" x2="150.30" y2="448.30" stroke="#000" stroke-width="1.0" />
<text x="148.25" y="460.40" font-size="10.08" textLength="4.91" lengthAdjust="spacingAndGlyphs" fill="#1c1c1c">9</text>
<line x1="180.60" y1="445.30" x2="180.60" y2="448.30" stroke="#000" stroke-width="1.0" />
<text x="175.97" y="460.40" font-size="10.08" textLength="9.82" lengthAdjust="spacingAndGlyphs" fill="#1c1c1c">12</text>
<text x="112.59" y="475.20" font-size="11.45" textLength="15.43" lengthAdjust="spacingAndGlyphs" fill="#1c1c1c">Day</text>
<text transform="translate(36.5,397.60) rotate(-90)" x="0" y="0" font-size="10.6" text-anchor="middle" textLength="51.2" lengthAdjust="spacingAndGlyphs" fill="#111">GFP:dTomato</text>
<line x1="64.80" y1="359.50" x2="71.60" y2="359.50" stroke="#c0363a" stroke-width="1.0" />
<circle cx="68.2" cy="359.50" r="1.3" fill="#c0363a"/>
<text x="74.87" y="362.40" font-size="9.77" textLength="26.55" lengthAdjust="spacingAndGlyphs" fill="#1c1c1c">DMSO</text>
<line x1="64.80" y1="372.60" x2="71.60" y2="372.60" stroke="#c0363a" stroke-width="1.0" />
<circle cx="68.2" cy="372.60" r="1.5" fill="#fff" stroke="#c0363a" stroke-width="0.9"/>
<text x="74.86" y="375.50" font-size="9.77" textLength="37.52" lengthAdjust="spacingAndGlyphs" fill="#1c1c1c">Dasatinib</text>
<polyline points="59.40,439.82 89.70,440.12 120.00,439.67 150.30,437.75 180.60,433.75" fill="none" stroke="#c0363a" stroke-width="1.0"/>
<polyline points="59.40,439.67 89.70,439.08 120.00,436.86 150.30,414.66 180.60,365.67" fill="none" stroke="#c0363a" stroke-width="1.1"/>
<circle cx="59.40" cy="439.82" r="1.5" fill="#fff" stroke="#c0363a" stroke-width="0.9"/>
<circle cx="89.70" cy="440.12" r="1.5" fill="#fff" stroke="#c0363a" stroke-width="0.9"/>
<circle cx="120.00" cy="439.67" r="1.5" fill="#fff" stroke="#c0363a" stroke-width="0.9"/>
<circle cx="150.30" cy="437.75" r="1.5" fill="#fff" stroke="#c0363a" stroke-width="0.9"/>
<circle cx="180.60" cy="433.75" r="1.5" fill="#fff" stroke="#c0363a" stroke-width="0.9"/>
<circle cx="59.40" cy="439.67" r="1.4" fill="#c0363a"/>
<circle cx="89.70" cy="439.08" r="1.4" fill="#c0363a"/>
<circle cx="120.00" cy="436.86" r="1.4" fill="#c0363a"/>
<circle cx="150.30" cy="414.66" r="1.4" fill="#c0363a"/>
<circle cx="180.60" cy="365.67" r="1.4" fill="#c0363a"/>
<line x1="180.60" y1="358.27" x2="180.60" y2="373.07" stroke="#c0363a" stroke-width="1.0" />
<line x1="179.40" y1="358.27" x2="181.80" y2="358.27" stroke="#c0363a" stroke-width="1.0" />
<line x1="179.40" y1="373.07" x2="181.80" y2="373.07" stroke="#c0363a" stroke-width="1.0" />
<line x1="150.30" y1="412.51" x2="150.30" y2="416.81" stroke="#c0363a" stroke-width="1.0" />
<line x1="149.30" y1="412.51" x2="151.30" y2="412.51" stroke="#c0363a" stroke-width="0.9" />
<line x1="149.30" y1="416.81" x2="151.30" y2="416.81" stroke="#c0363a" stroke-width="0.9" />
<polygon points="142.55,407.20 142.99,408.29 144.17,408.37 143.26,409.13 143.55,410.28 142.55,409.65 141.55,410.28 141.84,409.13 140.93,408.37 142.11,408.29" fill="#222"/>
<polygon points="146.50,407.20 146.94,408.29 148.12,408.37 147.21,409.13 147.50,410.28 146.50,409.65 145.50,410.28 145.79,409.13 144.88,408.37 146.06,408.29" fill="#222"/>
<polygon points="150.45,407.20 150.89,408.29 152.07,408.37 151.16,409.13 151.45,410.28 150.45,409.65 149.45,410.28 149.74,409.13 148.83,408.37 150.01,408.29" fill="#222"/>
<polygon points="176.65,352.40 177.09,353.49 178.27,353.57 177.36,354.33 177.65,355.48 176.65,354.85 175.65,355.48 175.94,354.33 175.03,353.57 176.21,353.49" fill="#222"/>
<polygon points="180.60,352.40 181.04,353.49 182.22,353.57 181.31,354.33 181.60,355.48 180.60,354.85 179.60,355.48 179.89,354.33 178.98,353.57 180.16,353.49" fill="#222"/>
<polygon points="184.55,352.40 184.99,353.49 186.17,353.57 185.26,354.33 185.55,355.48 184.55,354.85 183.55,355.48 183.84,354.33 182.93,353.57 184.11,353.49" fill="#222"/>
<text x="7.54" y="512.60" font-size="13.65" textLength="11.42" lengthAdjust="spacingAndGlyphs" font-weight="bold" fill="#000">D</text>
<line x1="56.10" y1="514.50" x2="56.10" y2="610.90" stroke="#000" stroke-width="1.3" />
<line x1="55.50" y1="610.30" x2="184.00" y2="610.30" stroke="#000" stroke-width="1.3" />
<line x1="52.60" y1="606.30" x2="56.10" y2="606.30" stroke="#000" stroke-width="1.0" />
<text x="44.08" y="609.15" font-size="9.24" textLength="4.65" lengthAdjust="spacingAndGlyphs" fill="#1c1c1c">0</text>
<line x1="52.60" y1="576.70" x2="56.10" y2="576.70" stroke="#000" stroke-width="1.0" />
<text x="44.16" y="579.55" font-size="9.24" textLength="4.65" lengthAdjust="spacingAndGlyphs" fill="#1c1c1c">1</text>
<line x1="52.60" y1="547.10" x2="56.10" y2="547.10" stroke="#000" stroke-width="1.0" />
<text x="44.17" y="549.95" font-size="9.24" textLength="4.65" lengthAdjust="spacingAndGlyphs" fill="#1c1c1c">2</text>
<line x1="52.60" y1="517.50" x2="56.10" y2="517.50" stroke="#000" stroke-width="1.0" />
<text x="44.12" y="520.35" font-size="9.24" textLength="4.65" lengthAdjust="spacingAndGlyphs" fill="#1c1c1c">3</text>
<line x1="59.40" y1="610.30" x2="59.40" y2="613.30" stroke="#000" stroke-width="1.0" />
<text x="57.34" y="625.40" font-size="10.08" textLength="4.91" lengthAdjust="spacingAndGlyphs" fill="#1c1c1c">0</text>
<line x1="89.70" y1="610.30" x2="89.70" y2="613.30" stroke="#000" stroke-width="1.0" />
<text x="87.67" y="625.40" font-size="10.08" textLength="4.91" lengthAdjust="spacingAndGlyphs" fill="#1c1c1c">3</text>
<line x1="120.00" y1="610.30" x2="120.00" y2="613.30" stroke="#000" stroke-width="1.0" />
<text x="117.91" y="625.40" font-size="10.08" textLength="4.91" lengthAdjust="spacingAndGlyphs" fill="#1c1c1c">6</text>
<line x1="150.30" y1="610.30" x2="150.30" y2="613.30" stroke="#000" stroke-width="1.0" />
<text x="148.25" y="625.40" font-size="10.08" textLength="4.91" lengthAdjust="spacingAndGlyphs" fill="#1c1c1c">9</text>
<line x1="180.60" y1="610.30" x2="180.60" y2="613.30" stroke="#000" stroke-width="1.0" />
<text x="175.97" y="625.40" font-size="10.08" textLength="9.82" lengthAdjust="spacingAndGlyphs" fill="#1c1c1c">12</text>
<text x="112.59" y="640.20" font-size="11.45" textLength="15.43" lengthAdjust="spacingAndGlyphs" fill="#1c1c1c">Day</text>
<text transform="translate(36.5,562.60) rotate(-90)" x="0" y="0" font-size="10.6" text-anchor="middle" textLength="51.2" lengthAdjust="spacingAndGlyphs" fill="#111">GFP:dTomato</text>
<line x1="64.80" y1="524.50" x2="71.60" y2="524.50" stroke="#b5103a" stroke-width="1.0" />
<circle cx="68.2" cy="524.50" r="1.3" fill="#b5103a"/>
<text x="74.87" y="527.40" font-size="9.77" textLength="26.55" lengthAdjust="spacingAndGlyphs" fill="#1c1c1c">DMSO</text>
<line x1="64.80" y1="537.60" x2="71.60" y2="537.60" stroke="#b5103a" stroke-width="1.0" />
<circle cx="68.2" cy="537.60" r="1.5" fill="#fff" stroke="#b5103a" stroke-width="0.9"/>
<text x="74.86" y="540.50" font-size="9.77" textLength="37.52" lengthAdjust="spacingAndGlyphs" fill="#1c1c1c">Dasatinib</text>
<polyline points="59.40,603.34 89.70,603.34 120.00,602.75 150.30,600.38 180.60,595.94" fill="none" stroke="#b5103a" stroke-width="1.0"/>
<polyline points="59.40,603.19 89.70,602.75 120.00,599.79 150.30,585.58 180.60,537.33" fill="none" stroke="#b5103a" stroke-width="1.1"/>
<circle cx="59.40" cy="603.34" r="1.5" fill="#fff" stroke="#b5103a" stroke-width="0.9"/>
<circle cx="89.70" cy="603.34" r="1.5" fill="#fff" stroke="#b5103a" stroke-width="0.9"/>
<circle cx="120.00" cy="602.75" r="1.5" fill="#fff" stroke="#b5103a" stroke-width="0.9"/>
<circle cx="150.30" cy="600.38" r="1.5" fill="#fff" stroke="#b5103a" stroke-width="0.9"/>
<circle cx="180.60" cy="595.94" r="1.5" fill="#fff" stroke="#b5103a" stroke-width="0.9"/>
<circle cx="59.40" cy="603.19" r="1.4" fill="#b5103a"/>
<circle cx="89.70" cy="602.75" r="1.4" fill="#b5103a"/>
<circle cx="120.00" cy="599.79" r="1.4" fill="#b5103a"/>
<circle cx="150.30" cy="585.58" r="1.4" fill="#b5103a"/>
<circle cx="180.60" cy="537.33" r="1.4" fill="#b5103a"/>
<line x1="180.60" y1="528.75" x2="180.60" y2="545.92" stroke="#b5103a" stroke-width="1.0" />
<line x1="179.40" y1="528.75" x2="181.80" y2="528.75" stroke="#b5103a" stroke-width="1.0" />
<line x1="179.40" y1="545.92" x2="181.80" y2="545.92" stroke="#b5103a" stroke-width="1.0" />
<line x1="150.30" y1="584.40" x2="150.30" y2="586.76" stroke="#b5103a" stroke-width="1.0" />
<line x1="149.30" y1="584.40" x2="151.30" y2="584.40" stroke="#b5103a" stroke-width="0.9" />
<line x1="149.30" y1="586.76" x2="151.30" y2="586.76" stroke="#b5103a" stroke-width="0.9" />
<polygon points="150.40,577.90 150.84,578.99 152.02,579.07 151.11,579.83 151.40,580.98 150.40,580.35 149.40,580.98 149.69,579.83 148.78,579.07 149.96,578.99" fill="#222"/>
<polygon points="176.95,523.10 177.39,524.19 178.57,524.27 177.66,525.03 177.95,526.18 176.95,525.55 175.95,526.18 176.24,525.03 175.33,524.27 176.51,524.19" fill="#222"/>
<polygon points="180.90,523.10 181.34,524.19 182.52,524.27 181.61,525.03 181.90,526.18 180.90,525.55 179.90,526.18 180.19,525.03 179.28,524.27 180.46,524.19" fill="#222"/>
<polygon points="184.85,523.10 185.29,524.19 186.47,524.27 185.56,525.03 185.85,526.18 184.85,525.55 183.85,526.18 184.14,525.03 183.23,524.27 184.41,524.19" fill="#222"/>
<text x="217.43" y="19.00" font-size="13.02" textLength="8.68" lengthAdjust="spacingAndGlyphs" font-weight="bold" fill="#000">E</text>
<text x="256.23" y="27.50" font-size="10.5" textLength="34.91" lengthAdjust="spacingAndGlyphs" fill="#1c1c1c">CBL-V5:</text>
<text x="248.11" y="44.60" font-size="10.29" textLength="43.08" lengthAdjust="spacingAndGlyphs" fill="#1c1c1c">Dasatinib:</text>
<line x1="301.50" y1="32.80" x2="335.50" y2="32.80" stroke="#111" stroke-width="1.2" />
<line x1="344.20" y1="32.80" x2="378.40" y2="32.80" stroke="#111" stroke-width="1.2" />
<line x1="386.00" y1="32.80" x2="420.20" y2="32.80" stroke="#111" stroke-width="1.2" />
<line x1="430.20" y1="32.80" x2="464.30" y2="32.80" stroke="#111" stroke-width="1.2" />
<line x1="472.70" y1="32.80" x2="506.90" y2="32.80" stroke="#111" stroke-width="1.2" />
<text x="317.13" y="27.50" font-size="10.5" textLength="3.33" lengthAdjust="spacingAndGlyphs" fill="#1c1c1c">-</text>
<text x="354.16" y="27.50" font-size="10.29" textLength="14.56" lengthAdjust="spacingAndGlyphs" fill="#1c1c1c">WT</text>
<text x="388.79" y="27.50" font-size="10.29" textLength="29.19" lengthAdjust="spacingAndGlyphs" fill="#1c1c1c">Y371H</text>
<text x="431.91" y="27.50" font-size="10.29" textLength="29.30" lengthAdjust="spacingAndGlyphs" fill="#1c1c1c">C384Y</text>
<text x="474.91" y="27.50" font-size="10.29" textLength="30.55" lengthAdjust="spacingAndGlyphs" fill="#1c1c1c">R420Q</text>
<text x="305.73" y="44.60" font-size="9.87" textLength="3.13" lengthAdjust="spacingAndGlyphs" fill="#1c1c1c">-</text>
<text x="324.16" y="44.60" font-size="9.87" textLength="5.49" lengthAdjust="spacingAndGlyphs" fill="#1c1c1c">+</text>
<text x="347.93" y="44.60" font-size="9.87" textLength="3.13" lengthAdjust="spacingAndGlyphs" fill="#1c1c1c">-</text>
<text x="366.86" y="44.60" font-size="9.87" textLength="5.49" lengthAdjust="spacingAndGlyphs" fill="#1c1c1c">+</text>
<text x="390.63" y="44.60" font-size="9.87" textLength="3.13" lengthAdjust="spacingAndGlyphs" fill="#1c1c1c">-</text>
<text x="409.26" y="44.60" font-size="9.87" textLength="5.49" lengthAdjust="spacingAndGlyphs" fill="#1c1c1c">+</text>
<text x="433.03" y="44.60" font-size="9.87" textLength="3.13" lengthAdjust="spacingAndGlyphs" fill="#1c1c1c">-</text>
<text x="451.96" y="44.60" font-size="9.87" textLength="5.49" lengthAdjust="spacingAndGlyphs" fill="#1c1c1c">+</text>
<text x="476.43" y="44.60" font-size="9.87" textLength="3.13" lengthAdjust="spacingAndGlyphs" fill="#1c1c1c">-</text>
<text x="495.36" y="44.60" font-size="9.87" textLength="5.49" lengthAdjust="spacingAndGlyphs" fill="#1c1c1c">+</text>
<rect x="294.80" y="51.80" width="216.40" height="16.60" fill="#d9d9d9" stroke="#111" stroke-width="1.6" rx="0.6"/>
<rect x="296.10" y="53.10" width="213.80" height="14.00" fill="none" stroke="#f4f4f4" stroke-width="0.8"/>
<text x="273.26" y="62.60" font-size="9.87" textLength="16.93" lengthAdjust="spacingAndGlyphs" fill="#1c1c1c">CBL</text>
<rect x="294.80" y="74.00" width="216.40" height="13.80" fill="#d9d9d9" stroke="#111" stroke-width="1.6" rx="0.6"/>
<rect x="296.10" y="75.30" width="213.80" height="11.20" fill="none" stroke="#f4f4f4" stroke-width="0.8"/>
<text x="243.21" y="84.10" font-size="9.87" textLength="46.99" lengthAdjust="spacingAndGlyphs" fill="#1c1c1c">pY700-CBL</text>
<rect x="294.80" y="93.80" width="216.40" height="14.20" fill="#d9d9d9" stroke="#111" stroke-width="1.6" rx="0.6"/>
<rect x="296.10" y="95.10" width="213.80" height="11.60" fill="none" stroke="#f4f4f4" stroke-width="0.8"/>
<text x="243.21" y="104.10" font-size="9.87" textLength="46.99" lengthAdjust="spacingAndGlyphs" fill="#1c1c1c">pY774-CBL</text>
<rect x="294.80" y="113.00" width="216.40" height="14.80" fill="#d9d9d9" stroke="#111" stroke-width="1.6" rx="0.6"/>
<rect x="296.10" y="114.30" width="213.80" height="12.20" fill="none" stroke="#f4f4f4" stroke-width="0.8"/>
<text x="273.79" y="123.00" font-size="9.87" textLength="16.81" lengthAdjust="spacingAndGlyphs" fill="#1c1c1c">LYN</text>
<rect x="294.80" y="134.20" width="216.40" height="16.40" fill="#d9d9d9" stroke="#111" stroke-width="1.6" rx="0.6"/>
<rect x="296.10" y="135.50" width="213.80" height="13.80" fill="none" stroke="#f4f4f4" stroke-width="0.8"/>
<text x="243.61" y="145.00" font-size="9.87" textLength="47.03" lengthAdjust="spacingAndGlyphs" fill="#1c1c1c">pY397-LYN</text>
<rect x="294.80" y="156.60" width="216.40" height="21.60" fill="#d9d9d9" stroke="#111" stroke-width="1.6" rx="0.6"/>
<rect x="296.10" y="157.90" width="213.80" height="19.00" fill="none" stroke="#f4f4f4" stroke-width="0.8"/>
<text x="272.78" y="169.70" font-size="9.87" textLength="17.32" lengthAdjust="spacingAndGlyphs" fill="#1c1c1c">AKT</text>
<rect x="294.80" y="183.60" width="216.40" height="22.40" fill="#d9d9d9" stroke="#111" stroke-width="1.6" rx="0.6"/>
<rect x="296.10" y="184.90" width="213.80" height="19.80" fill="none" stroke="#f4f4f4" stroke-width="0.8"/>
<text x="242.20" y="197.30" font-size="9.87" textLength="47.91" lengthAdjust="spacingAndGlyphs" fill="#1c1c1c">pS473-AKT</text>
<rect x="294.80" y="211.20" width="216.40" height="17.90" fill="#ececec" stroke="#111" stroke-width="1.6" rx="0.6"/>
<rect x="296.10" y="212.50" width="213.80" height="15.30" fill="none" stroke="#f4f4f4" stroke-width="0.8"/>
<text x="279.71" y="222.10" font-size="9.87" textLength="10.57" lengthAdjust="spacingAndGlyphs" fill="#1c1c1c">S6</text>
<rect x="294.80" y="233.80" width="216.40" height="22.70" fill="#d6d6d6" stroke="#111" stroke-width="1.6" rx="0.6"/>
<rect x="296.10" y="235.10" width="213.80" height="20.10" fill="none" stroke="#f4f4f4" stroke-width="0.8"/>
<text x="225.21" y="249.10" font-size="9.87" textLength="65.10" lengthAdjust="spacingAndGlyphs" fill="#1c1c1c">pS235/S236-S6</text>
<rect x="294.80" y="261.10" width="216.40" height="17.40" fill="#dcdcdc" stroke="#111" stroke-width="1.6" rx="0.6"/>
<rect x="296.10" y="262.40" width="213.80" height="14.80" fill="none" stroke="#f4f4f4" stroke-width="0.8"/>
<text x="273.46" y="272.70" font-size="9.87" textLength="16.72" lengthAdjust="spacingAndGlyphs" fill="#1c1c1c">VCL</text>
<path d="M342.60,56.55 Q350.45,57.55 358.30,56.55 L358.30,60.15 Q350.45,61.15 342.60,60.15 Z" fill="#000" opacity="0.92" filter="url(#b8)"/>
<path d="M342.60,60.40 Q350.45,60.40 358.30,60.40 L358.30,64.40 Q350.45,64.40 342.60,64.40 Z" fill="#000" opacity="0.20" filter="url(#b12)"/>
<path d="M363.60,56.55 Q371.45,57.55 379.30,56.55 L379.30,60.15 Q371.45,61.15 363.60,60.15 Z" fill="#000" opacity="0.90" filter="url(#b8)"/>
<path d="M363.60,60.40 Q371.45,60.40 379.30,60.40 L379.30,64.40 Q371.45,64.40 363.60,64.40 Z" fill="#000" opacity="0.20" filter="url(#b12)"/>
<path d="M384.60,56.75 Q392.15,57.75 399.70,56.75 L399.70,60.35 Q392.15,61.35 384.60,60.35 Z" fill="#000" opacity="0.88" filter="url(#b8)"/>
<path d="M384.60,60.60 Q392.15,60.60 399.70,60.60 L399.70,64.60 Q392.15,64.60 384.60,64.60 Z" fill="#000" opacity="0.19" filter="url(#b12)"/>
<path d="M405.40,56.75 Q413.45,57.75 421.50,56.75 L421.50,60.35 Q413.45,61.35 405.40,60.35 Z" fill="#000" opacity="0.90" filter="url(#b8)"/>
<path d="M405.40,60.60 Q413.45,60.60 421.50,60.60 L421.50,64.60 Q413.45,64.60 405.40,64.60 Z" fill="#000" opacity="0.20" filter="url(#b12)"/>
<path d="M425.90,57.65 Q433.95,58.65 442.00,57.65 L442.00,61.25 Q433.95,62.25 425.90,61.25 Z" fill="#000" opacity="0.62" filter="url(#b8)"/>
<path d="M425.90,61.50 Q433.95,61.50 442.00,61.50 L442.00,65.50 Q433.95,65.50 425.90,65.50 Z" fill="#000" opacity="0.14" filter="url(#b12)"/>
<path d="M446.30,57.85 Q454.95,58.85 463.60,57.85 L463.60,61.45 Q454.95,62.45 446.30,61.45 Z" fill="#000" opacity="0.55" filter="url(#b8)"/>
<path d="M446.30,61.70 Q454.95,61.70 463.60,61.70 L463.60,65.70 Q454.95,65.70 446.30,65.70 Z" fill="#000" opacity="0.12" filter="url(#b12)"/>
<path d="M469.00,58.55 Q477.00,59.55 485.00,58.55 L485.00,62.95 Q477.00,63.95 469.00,62.95 Z" fill="#000" opacity="0.95" filter="url(#b8)"/>
<path d="M469.00,62.80 Q477.00,62.80 485.00,62.80 L485.00,66.80 Q477.00,66.80 469.00,66.80 Z" fill="#000" opacity="0.21" filter="url(#b12)"/>
<path d="M490.50,58.55 Q499.15,59.55 507.80,58.55 L507.80,62.95 Q499.15,63.95 490.50,62.95 Z" fill="#000" opacity="0.95" filter="url(#b8)"/>
<path d="M490.50,62.80 Q499.15,62.80 507.80,62.80 L507.80,66.80 Q499.15,66.80 490.50,66.80 Z" fill="#000" opacity="0.21" filter="url(#b12)"/>
<path d="M341.40,80.90 Q349.60,80.90 357.80,80.90 L357.80,83.50 Q349.60,83.50 341.40,83.50 Z" fill="#000" opacity="0.10" filter="url(#b8)"/>
<path d="M384.00,80.55 Q392.15,79.55 400.30,80.55 L400.30,83.95 Q392.15,82.95 384.00,83.95 Z" fill="#000" opacity="0.92" filter="url(#b8)"/>
<path d="M424.80,80.40 Q432.95,80.40 441.10,80.40 L441.10,83.20 Q432.95,83.20 424.80,83.20 Z" fill="#000" opacity="0.50" filter="url(#b8)"/>
<path d="M467.30,79.25 Q476.25,78.25 485.20,79.25 L485.20,82.85 Q476.25,81.85 467.30,82.85 Z" fill="#000" opacity="0.95" filter="url(#b8)"/>
<path d="M344.70,100.50 Q352.85,100.50 361.00,100.50 L361.00,103.10 Q352.85,103.10 344.70,103.10 Z" fill="#000" opacity="0.22" filter="url(#b8)"/>
<path d="M386.20,100.10 Q394.05,99.30 401.90,100.10 L401.90,103.50 Q394.05,102.70 386.20,103.50 Z" fill="#000" opacity="0.92" filter="url(#b8)"/>
<path d="M428.00,99.20 Q436.20,99.20 444.40,99.20 L444.40,102.00 Q436.20,102.00 428.00,102.00 Z" fill="#000" opacity="0.50" filter="url(#b8)"/>
<path d="M470.50,97.40 Q479.50,96.60 488.50,97.40 L488.50,100.80 Q479.50,100.00 470.50,100.80 Z" fill="#000" opacity="0.93" filter="url(#b8)"/>
<path d="M298.20,120.20 Q307.20,120.20 316.20,120.20 L316.20,123.00 Q307.20,123.00 298.20,123.00 Z" fill="#000" opacity="0.55" filter="url(#b8)"/>
<path d="M298.20,118.50 Q307.20,118.50 316.20,118.50 L316.20,120.30 Q307.20,120.30 298.20,120.30 Z" fill="#000" opacity="0.19" filter="url(#b8)"/>
<path d="M320.40,121.20 Q329.40,121.20 338.40,121.20 L338.40,124.00 Q329.40,124.00 320.40,124.00 Z" fill="#000" opacity="0.62" filter="url(#b8)"/>
<path d="M320.40,119.50 Q329.40,119.50 338.40,119.50 L338.40,121.30 Q329.40,121.30 320.40,121.30 Z" fill="#000" opacity="0.22" filter="url(#b8)"/>
<path d="M342.70,120.80 Q350.10,120.80 357.50,120.80 L357.50,123.60 Q350.10,123.60 342.70,123.60 Z" fill="#000" opacity="0.35" filter="url(#b8)"/>
<path d="M342.70,119.10 Q350.10,119.10 357.50,119.10 L357.50,120.90 Q350.10,120.90 342.70,120.90 Z" fill="#000" opacity="0.12" filter="url(#b8)"/>
<path d="M362.80,120.20 Q370.70,120.20 378.60,120.20 L378.60,123.00 Q370.70,123.00 362.80,123.00 Z" fill="#000" opacity="0.42" filter="url(#b8)"/>
<path d="M362.80,118.50 Q370.70,118.50 378.60,118.50 L378.60,120.30 Q370.70,120.30 362.80,120.30 Z" fill="#000" opacity="0.15" filter="url(#b8)"/>
<path d="M384.00,120.00 Q391.90,120.00 399.80,120.00 L399.80,122.80 Q391.90,122.80 384.00,122.80 Z" fill="#000" opacity="0.85" filter="url(#b8)"/>
<path d="M384.00,118.30 Q391.90,118.30 399.80,118.30 L399.80,120.10 Q391.90,120.10 384.00,120.10 Z" fill="#000" opacity="0.30" filter="url(#b8)"/>
<path d="M404.10,119.20 Q412.55,119.20 421.00,119.20 L421.00,122.00 Q412.55,122.00 404.10,122.00 Z" fill="#000" opacity="0.85" filter="url(#b8)"/>
<path d="M404.10,117.50 Q412.55,117.50 421.00,117.50 L421.00,119.30 Q412.55,119.30 404.10,119.30 Z" fill="#000" opacity="0.30" filter="url(#b8)"/>
<path d="M425.30,118.70 Q433.20,118.70 441.10,118.70 L441.10,121.50 Q433.20,121.50 425.30,121.50 Z" fill="#000" opacity="0.72" filter="url(#b8)"/>
<path d="M425.30,117.00 Q433.20,117.00 441.10,117.00 L441.10,118.80 Q433.20,118.80 425.30,118.80 Z" fill="#000" opacity="0.25" filter="url(#b8)"/>
<path d="M446.40,118.70 Q454.35,118.70 462.30,118.70 L462.30,121.50 Q454.35,121.50 446.40,121.50 Z" fill="#000" opacity="0.72" filter="url(#b8)"/>
<path d="M446.40,117.00 Q454.35,117.00 462.30,117.00 L462.30,118.80 Q454.35,118.80 446.40,118.80 Z" fill="#000" opacity="0.25" filter="url(#b8)"/>
<path d="M467.60,117.50 Q475.50,117.50 483.40,117.50 L483.40,120.30 Q475.50,120.30 467.60,120.30 Z" fill="#000" opacity="0.70" filter="url(#b8)"/>
<path d="M467.60,115.80 Q475.50,115.80 483.40,115.80 L483.40,117.60 Q475.50,117.60 467.60,117.60 Z" fill="#000" opacity="0.24" filter="url(#b8)"/>
<path d="M488.70,117.00 Q497.20,117.00 505.70,117.00 L505.70,119.80 Q497.20,119.80 488.70,119.80 Z" fill="#000" opacity="0.85" filter="url(#b8)"/>
<path d="M488.70,115.30 Q497.20,115.30 505.70,115.30 L505.70,117.10 Q497.20,117.10 488.70,117.10 Z" fill="#000" opacity="0.30" filter="url(#b8)"/>
<path d="M298.20,138.20 Q306.70,138.20 315.20,138.20 L315.20,141.00 Q306.70,141.00 298.20,141.00 Z" fill="#000" opacity="0.72" filter="url(#b9)"/>
<path d="M298.20,143.10 Q306.70,143.10 315.20,143.10 L315.20,146.10 Q306.70,146.10 298.20,146.10 Z" fill="#000" opacity="0.70" filter="url(#b9)"/>
<path d="M343.70,142.10 Q350.60,142.10 357.50,142.10 L357.50,144.90 Q350.60,144.90 343.70,144.90 Z" fill="#000" opacity="0.25" filter="url(#b9)"/>
<path d="M343.70,145.50 Q350.60,145.50 357.50,145.50 L357.50,148.50 Q350.60,148.50 343.70,148.50 Z" fill="#000" opacity="0.35" filter="url(#b9)"/>
<path d="M384.00,140.00 Q391.90,140.00 399.80,140.00 L399.80,142.80 Q391.90,142.80 384.00,142.80 Z" fill="#000" opacity="0.90" filter="url(#b9)"/>
<path d="M384.00,144.10 Q391.90,144.10 399.80,144.10 L399.80,147.10 Q391.90,147.10 384.00,147.10 Z" fill="#000" opacity="0.85" filter="url(#b9)"/>
<path d="M424.20,138.10 Q432.65,138.10 441.10,138.10 L441.10,140.90 Q432.65,140.90 424.20,140.90 Z" fill="#000" opacity="0.88" filter="url(#b9)"/>
<path d="M424.20,142.60 Q432.65,142.60 441.10,142.60 L441.10,145.60 Q432.65,145.60 424.20,145.60 Z" fill="#000" opacity="0.82" filter="url(#b9)"/>
<path d="M467.60,137.00 Q475.50,137.00 483.40,137.00 L483.40,139.80 Q475.50,139.80 467.60,139.80 Z" fill="#000" opacity="0.88" filter="url(#b9)"/>
<path d="M467.60,141.20 Q475.50,141.20 483.40,141.20 L483.40,144.20 Q475.50,144.20 467.60,144.20 Z" fill="#000" opacity="0.82" filter="url(#b9)"/>
<path d="M455.00,138.00 Q458.50,138.00 462.00,138.00 L462.00,139.60 Q458.50,139.60 455.00,139.60 Z" fill="#000" opacity="0.06" filter="url(#b8)"/>
<path d="M300.30,161.75 Q310.35,163.75 320.40,161.75 L320.40,170.25 Q310.35,172.25 300.30,170.25 Z" fill="#000" opacity="0.51" filter="url(#b13)" transform="rotate(11 310.35 166.50)"/>
<path d="M300.80,164.55 Q310.35,166.55 319.90,164.55 L319.90,169.05 Q310.35,171.05 300.80,169.05 Z" fill="#000" opacity="0.85" filter="url(#b10)" transform="rotate(11 310.35 167.30)"/>
<path d="M322.60,165.45 Q332.10,163.85 341.60,165.45 L341.60,174.95 Q332.10,173.35 322.60,174.95 Z" fill="#000" opacity="0.38" filter="url(#b14)"/>
<path d="M323.10,169.30 Q332.10,170.50 341.10,169.30 L341.10,173.30 Q332.10,174.50 323.10,173.30 Z" fill="#000" opacity="0.75" filter="url(#b10)"/>
<path d="M343.70,164.65 Q353.25,163.05 362.80,164.65 L362.80,174.15 Q353.25,172.55 343.70,174.15 Z" fill="#000" opacity="0.42" filter="url(#b14)"/>
<path d="M344.20,168.50 Q353.25,169.70 362.30,168.50 L362.30,172.50 Q353.25,173.70 344.20,172.50 Z" fill="#000" opacity="0.85" filter="url(#b10)"/>
<path d="M364.90,164.85 Q373.35,163.25 381.80,164.85 L381.80,174.35 Q373.35,172.75 364.90,174.35 Z" fill="#000" opacity="0.40" filter="url(#b14)"/>
<path d="M365.40,168.70 Q373.35,169.90 381.30,168.70 L381.30,172.70 Q373.35,173.90 365.40,172.70 Z" fill="#000" opacity="0.80" filter="url(#b10)"/>
<path d="M385.00,164.65 Q393.45,163.05 401.90,164.65 L401.90,174.15 Q393.45,172.55 385.00,174.15 Z" fill="#000" opacity="0.42" filter="url(#b14)"/>
<path d="M385.50,168.50 Q393.45,169.70 401.40,168.50 L401.40,172.50 Q393.45,173.70 385.50,172.50 Z" fill="#000" opacity="0.85" filter="url(#b10)"/>
<path d="M404.10,164.85 Q413.10,163.25 422.10,164.85 L422.10,174.35 Q413.10,172.75 404.10,174.35 Z" fill="#000" opacity="0.41" filter="url(#b14)"/>
<path d="M404.60,168.70 Q413.10,169.90 421.60,168.70 L421.60,172.70 Q413.10,173.90 404.60,172.70 Z" fill="#000" opacity="0.82" filter="url(#b10)"/>
<path d="M424.20,164.85 Q433.20,163.25 442.20,164.85 L442.20,174.35 Q433.20,172.75 424.20,174.35 Z" fill="#000" opacity="0.41" filter="url(#b14)"/>
<path d="M424.70,168.70 Q433.20,169.90 441.70,168.70 L441.70,172.70 Q433.20,173.90 424.70,172.70 Z" fill="#000" opacity="0.82" filter="url(#b10)"/>
<path d="M445.40,164.85 Q454.35,163.25 463.30,164.85 L463.30,174.35 Q454.35,172.75 445.40,174.35 Z" fill="#000" opacity="0.40" filter="url(#b14)"/>
<path d="M445.90,168.70 Q454.35,169.90 462.80,168.70 L462.80,172.70 Q454.35,173.90 445.90,172.70 Z" fill="#000" opacity="0.80" filter="url(#b10)"/>
<path d="M466.50,164.85 Q475.50,163.25 484.50,164.85 L484.50,174.35 Q475.50,172.75 466.50,174.35 Z" fill="#000" opacity="0.41" filter="url(#b14)"/>
<path d="M467.00,168.70 Q475.50,169.90 484.00,168.70 L484.00,172.70 Q475.50,173.90 467.00,172.70 Z" fill="#000" opacity="0.82" filter="url(#b10)"/>
<path d="M487.70,164.85 Q496.70,163.25 505.70,164.85 L505.70,174.35 Q496.70,172.75 487.70,174.35 Z" fill="#000" opacity="0.40" filter="url(#b14)"/>
<path d="M488.20,168.70 Q496.70,169.90 505.20,168.70 L505.20,172.70 Q496.70,173.90 488.20,172.70 Z" fill="#000" opacity="0.80" filter="url(#b10)"/>
<path d="M298.50,191.60 Q308.25,191.60 318.00,191.60 L318.00,195.60 Q308.25,195.60 298.50,195.60 Z" fill="#000" opacity="0.72" filter="url(#b10)" transform="rotate(15 308.25 193.60)"/>
<path d="M322.60,196.80 Q331.05,196.80 339.50,196.80 L339.50,200.00 Q331.05,200.00 322.60,200.00 Z" fill="#000" opacity="0.15" filter="url(#b12)"/>
<path d="M363.80,196.80 Q371.75,196.80 379.70,196.80 L379.70,200.00 Q371.75,200.00 363.80,200.00 Z" fill="#000" opacity="0.12" filter="url(#b12)"/>
<path d="M404.50,196.80 Q413.00,196.80 421.50,196.80 L421.50,200.00 Q413.00,200.00 404.50,200.00 Z" fill="#000" opacity="0.15" filter="url(#b12)"/>
<path d="M446.00,196.80 Q454.50,196.80 463.00,196.80 L463.00,200.00 Q454.50,200.00 446.00,200.00 Z" fill="#000" opacity="0.15" filter="url(#b12)"/>
<path d="M489.80,196.80 Q498.25,196.80 506.70,196.80 L506.70,200.00 Q498.25,200.00 489.80,200.00 Z" fill="#000" opacity="0.20" filter="url(#b12)"/>
<path d="M343.70,195.50 Q352.70,197.10 361.70,195.50 L361.70,200.10 Q352.70,201.70 343.70,200.10 Z" fill="#000" opacity="0.85" filter="url(#b9)"/>
<path d="M385.00,194.70 Q393.45,196.30 401.90,194.70 L401.90,200.50 Q393.45,202.10 385.00,200.50 Z" fill="#000" opacity="0.96" filter="url(#b9)"/>
<path d="M425.30,193.45 Q434.80,195.05 444.30,193.45 L444.30,200.95 Q434.80,202.55 425.30,200.95 Z" fill="#000" opacity="1.00" filter="url(#b9)"/>
<path d="M466.50,193.80 Q476.05,195.40 485.60,193.80 L485.60,200.60 Q476.05,202.20 466.50,200.60 Z" fill="#000" opacity="1.00" filter="url(#b9)"/>
<circle cx="492.6" cy="199.4" r="1.1" fill="#000"/>
<path d="M302.50,216.95 Q310.95,216.35 319.40,216.95 L319.40,219.75 Q310.95,219.15 302.50,219.75 Z" fill="#000" opacity="0.92" filter="url(#b8)"/>
<path d="M324.70,217.35 Q332.60,216.75 340.50,217.35 L340.50,220.15 Q332.60,219.55 324.70,220.15 Z" fill="#000" opacity="0.81" filter="url(#b8)"/>
<path d="M346.90,217.75 Q354.30,217.15 361.70,217.75 L361.70,220.55 Q354.30,219.95 346.90,220.55 Z" fill="#000" opacity="0.84" filter="url(#b8)"/>
<path d="M367.00,218.35 Q374.40,217.75 381.80,218.35 L381.80,221.15 Q374.40,220.55 367.00,221.15 Z" fill="#000" opacity="0.81" filter="url(#b8)"/>
<path d="M387.10,218.35 Q394.50,217.75 401.90,218.35 L401.90,221.15 Q394.50,220.55 387.10,221.15 Z" fill="#000" opacity="0.87" filter="url(#b8)"/>
<path d="M407.30,218.35 Q414.70,217.75 422.10,218.35 L422.10,221.15 Q414.70,220.55 407.30,221.15 Z" fill="#000" opacity="0.87" filter="url(#b8)"/>
<path d="M427.40,219.05 Q434.80,218.45 442.20,219.05 L442.20,221.85 Q434.80,221.25 427.40,221.85 Z" fill="#000" opacity="0.81" filter="url(#b8)"/>
<path d="M448.50,219.45 Q455.95,218.85 463.40,219.45 L463.40,222.25 Q455.95,221.65 448.50,222.25 Z" fill="#000" opacity="0.81" filter="url(#b8)"/>
<path d="M468.60,219.85 Q476.00,219.25 483.40,219.85 L483.40,222.65 Q476.00,222.05 468.60,222.65 Z" fill="#000" opacity="0.95" filter="url(#b8)"/>
<path d="M489.80,220.95 Q497.75,220.35 505.70,220.95 L505.70,223.75 Q497.75,223.15 489.80,223.75 Z" fill="#000" opacity="1.00" filter="url(#b8)"/>
<path d="M302.50,243.70 Q312.00,243.70 321.50,243.70 L321.50,247.90 Q312.00,247.90 302.50,247.90 Z" fill="#000" opacity="0.75" filter="url(#b11)"/>
<path d="M325.70,244.10 Q333.65,244.10 341.60,244.10 L341.60,247.50 Q333.65,247.50 325.70,247.50 Z" fill="#000" opacity="0.30" filter="url(#b11)"/>
<path d="M346.90,244.20 Q354.85,244.20 362.80,244.20 L362.80,247.40 Q354.85,247.40 346.90,247.40 Z" fill="#000" opacity="0.28" filter="url(#b11)"/>
<path d="M369.10,244.20 Q376.00,244.20 382.90,244.20 L382.90,247.40 Q376.00,247.40 369.10,247.40 Z" fill="#000" opacity="0.30" filter="url(#b11)"/>
<path d="M388.10,242.55 Q396.30,242.55 404.50,242.55 L404.50,249.05 Q396.30,249.05 388.10,249.05 Z" fill="#000" opacity="1.00" filter="url(#b13)"/>
<path d="M410.50,244.10 Q417.35,244.10 424.20,244.10 L424.20,247.50 Q417.35,247.50 410.50,247.50 Z" fill="#000" opacity="0.35" filter="url(#b11)"/>
<path d="M427.40,242.20 Q436.90,242.20 446.40,242.20 L446.40,249.40 Q436.90,249.40 427.40,249.40 Z" fill="#000" opacity="1.00" filter="url(#b13)"/>
<path d="M448.50,244.00 Q457.00,244.00 465.50,244.00 L465.50,247.60 Q457.00,247.60 448.50,247.60 Z" fill="#000" opacity="0.42" filter="url(#b11)"/>
<path d="M468.60,242.90 Q476.55,242.90 484.50,242.90 L484.50,248.70 Q476.55,248.70 468.60,248.70 Z" fill="#000" opacity="0.97" filter="url(#b13)"/>
<path d="M489.80,244.10 Q497.75,244.10 505.70,244.10 L505.70,247.50 Q497.75,247.50 489.80,247.50 Z" fill="#000" opacity="0.42" filter="url(#b11)"/>
<path d="M298.20,267.50 Q306.70,267.50 315.20,267.50 L315.20,270.90 Q306.70,270.90 298.20,270.90 Z" fill="#000" opacity="0.90" filter="url(#b8)" transform="rotate(5 306.70 269.20)"/>
<path d="M320.40,268.70 Q328.90,270.30 337.40,268.70 L337.40,272.10 Q328.90,273.70 320.40,272.10 Z" fill="#000" opacity="0.90" filter="url(#b8)"/>
<path d="M341.60,268.70 Q350.05,270.30 358.50,268.70 L358.50,272.10 Q350.05,273.70 341.60,272.10 Z" fill="#000" opacity="0.90" filter="url(#b8)"/>
<path d="M363.80,268.70 Q371.75,270.30 379.70,268.70 L379.70,272.10 Q371.75,273.70 363.80,272.10 Z" fill="#000" opacity="0.90" filter="url(#b8)"/>
<path d="M384.00,268.70 Q391.90,270.30 399.80,268.70 L399.80,272.10 Q391.90,273.70 384.00,272.10 Z" fill="#000" opacity="0.90" filter="url(#b8)"/>
<path d="M406.20,268.70 Q414.15,270.30 422.10,268.70 L422.10,272.10 Q414.15,273.70 406.20,272.10 Z" fill="#000" opacity="0.90" filter="url(#b8)"/>
<path d="M426.30,268.70 Q434.25,270.30 442.20,268.70 L442.20,272.10 Q434.25,273.70 426.30,272.10 Z" fill="#000" opacity="0.90" filter="url(#b8)"/>
<path d="M447.50,268.70 Q455.95,270.30 464.40,268.70 L464.40,272.10 Q455.95,273.70 447.50,272.10 Z" fill="#000" opacity="0.90" filter="url(#b8)"/>
<path d="M468.60,268.70 Q476.55,270.30 484.50,268.70 L484.50,272.10 Q476.55,273.70 468.60,272.10 Z" fill="#000" opacity="0.90" filter="url(#b8)"/>
<path d="M489.80,268.70 Q498.25,270.30 506.70,268.70 L506.70,272.10 Q498.25,273.70 489.80,272.10 Z" fill="#000" opacity="0.90" filter="url(#b8)"/>
<text x="217.89" y="308.50" font-size="13.65" textLength="8.31" lengthAdjust="spacingAndGlyphs" font-weight="bold" fill="#000">F</text>
<text x="270.33" y="317.70" font-size="10.5" textLength="34.91" lengthAdjust="spacingAndGlyphs" fill="#1c1c1c">CBL-V5:</text>
<text x="262.21" y="335.50" font-size="10.29" textLength="43.08" lengthAdjust="spacingAndGlyphs" fill="#1c1c1c">Dasatinib:</text>
<line x1="314.80" y1="323.90" x2="352.90" y2="323.90" stroke="#111" stroke-width="1.2" />
<line x1="371.00" y1="323.90" x2="409.00" y2="323.90" stroke="#111" stroke-width="1.2" />
<line x1="425.80" y1="323.90" x2="464.20" y2="323.90" stroke="#111" stroke-width="1.2" />
<text x="332.83" y="317.90" font-size="10.5" textLength="3.33" lengthAdjust="spacingAndGlyphs" fill="#1c1c1c">-</text>
<text x="382.46" y="317.90" font-size="10.29" textLength="14.66" lengthAdjust="spacingAndGlyphs" fill="#1c1c1c">WT</text>
<text x="430.72" y="317.90" font-size="10.29" textLength="28.89" lengthAdjust="spacingAndGlyphs" fill="#1c1c1c">C384Y</text>
<text x="320.63" y="335.40" font-size="9.87" textLength="3.13" lengthAdjust="spacingAndGlyphs" fill="#1c1c1c">-</text>
<text x="346.46" y="335.40" font-size="9.87" textLength="5.49" lengthAdjust="spacingAndGlyphs" fill="#1c1c1c">+</text>
<text x="376.13" y="335.40" font-size="9.87" textLength="3.13" lengthAdjust="spacingAndGlyphs" fill="#1c1c1c">-</text>
<text x="400.96" y="335.40" font-size="9.87" textLength="5.49" lengthAdjust="spacingAndGlyphs" fill="#1c1c1c">+</text>
<text x="430.93" y="335.40" font-size="9.87" textLength="3.13" lengthAdjust="spacingAndGlyphs" fill="#1c1c1c">-</text>
<text x="455.76" y="335.40" font-size="9.87" textLength="5.49" lengthAdjust="spacingAndGlyphs" fill="#1c1c1c">+</text>
<rect x="309.00" y="342.00" width="163.40" height="15.60" fill="#dfdfdf" stroke="#111" stroke-width="1.6" rx="0.6"/>
<rect x="310.30" y="343.30" width="160.80" height="13.00" fill="none" stroke="#f4f4f4" stroke-width="0.8"/>
<text x="293.46" y="354.90" font-size="9.45" textLength="11.23" lengthAdjust="spacingAndGlyphs" fill="#1c1c1c">V5</text>
<rect x="309.00" y="361.60" width="163.40" height="14.80" fill="#ececec" stroke="#111" stroke-width="1.6" rx="0.6"/>
<rect x="310.30" y="362.90" width="160.80" height="12.20" fill="none" stroke="#f4f4f4" stroke-width="0.8"/>
<text x="274.28" y="372.40" font-size="9.45" textLength="30.46" lengthAdjust="spacingAndGlyphs" fill="#1c1c1c">PIK3R1</text>
<rect x="309.00" y="386.40" width="163.40" height="16.00" fill="#e6e6e6" stroke="#111" stroke-width="1.6" rx="0.6"/>
<rect x="310.30" y="387.70" width="160.80" height="13.40" fill="none" stroke="#f4f4f4" stroke-width="0.8"/>
<text x="293.46" y="398.80" font-size="9.45" textLength="11.23" lengthAdjust="spacingAndGlyphs" fill="#1c1c1c">V5</text>
<rect x="309.00" y="407.80" width="163.40" height="10.60" fill="#dedede" stroke="#111" stroke-width="1.6" rx="0.6"/>
<rect x="310.30" y="409.10" width="160.80" height="8.00" fill="none" stroke="#f4f4f4" stroke-width="0.8"/>
<text x="274.28" y="416.00" font-size="9.45" textLength="30.46" lengthAdjust="spacingAndGlyphs" fill="#1c1c1c">PIK3R1</text>
<rect x="309.00" y="423.80" width="163.40" height="14.80" fill="#e4e4e4" stroke="#111" stroke-width="1.6" rx="0.6"/>
<rect x="310.30" y="425.10" width="160.80" height="12.20" fill="none" stroke="#f4f4f4" stroke-width="0.8"/>
<text x="280.38" y="433.70" font-size="9.45" textLength="24.40" lengthAdjust="spacingAndGlyphs" fill="#1c1c1c">ACTB</text>
<path d="M371.40,346.60 Q380.90,349.80 390.40,346.60 L390.40,352.60 Q380.90,355.80 371.40,352.60 Z" fill="#000" opacity="0.95" filter="url(#b9)"/>
<path d="M395.70,346.60 Q405.75,346.60 415.80,346.60 L415.80,352.00 Q405.75,352.00 395.70,352.00 Z" fill="#000" opacity="0.88" filter="url(#b9)"/>
<path d="M421.10,345.95 Q431.70,346.95 442.30,345.95 L442.30,351.35 Q431.70,352.35 421.10,351.35 Z" fill="#000" opacity="0.92" filter="url(#b9)"/>
<path d="M447.60,345.25 Q457.65,346.25 467.70,345.25 L467.70,351.05 Q457.65,352.05 447.60,351.05 Z" fill="#000" opacity="0.93" filter="url(#b9)"/>
<path d="M368.20,366.70 Q377.75,366.70 387.30,366.70 L387.30,369.30 Q377.75,369.30 368.20,369.30 Z" fill="#000" opacity="0.15" filter="url(#b8)"/>
<path d="M394.50,366.80 Q404.00,366.80 413.50,366.80 L413.50,369.20 Q404.00,369.20 394.50,369.20 Z" fill="#000" opacity="0.06" filter="url(#b8)"/>
<path d="M421.10,366.60 Q430.65,366.60 440.20,366.60 L440.20,369.40 Q430.65,369.40 421.10,369.40 Z" fill="#000" opacity="0.95" filter="url(#b8)"/>
<path d="M447.60,366.70 Q457.65,366.70 467.70,366.70 L467.70,369.30 Q457.65,369.30 447.60,369.30 Z" fill="#000" opacity="0.15" filter="url(#b8)"/>
<path d="M369.40,389.50 Q379.95,391.10 390.50,389.50 L390.50,398.90 Q379.95,400.50 369.40,398.90 Z" fill="#000" opacity="0.30" filter="url(#b11)"/>
<path d="M369.40,389.30 Q379.95,390.50 390.50,389.30 L390.50,391.30 Q379.95,392.50 369.40,391.30 Z" fill="#000" opacity="0.33" filter="url(#b8)"/>
<path d="M369.90,395.20 Q379.95,397.60 390.00,395.20 L390.00,398.80 Q379.95,401.20 369.90,398.80 Z" fill="#000" opacity="0.45" filter="url(#b9)"/>
<path d="M396.90,389.50 Q407.20,391.10 417.50,389.50 L417.50,398.90 Q407.20,400.50 396.90,398.90 Z" fill="#000" opacity="0.50" filter="url(#b11)"/>
<path d="M396.90,389.30 Q407.20,390.50 417.50,389.30 L417.50,391.30 Q407.20,392.50 396.90,391.30 Z" fill="#000" opacity="0.55" filter="url(#b8)"/>
<path d="M397.40,395.20 Q407.20,397.60 417.00,395.20 L417.00,398.80 Q407.20,401.20 397.40,398.80 Z" fill="#000" opacity="0.75" filter="url(#b9)"/>
<path d="M422.90,389.50 Q432.85,391.10 442.80,389.50 L442.80,398.90 Q432.85,400.50 422.90,398.90 Z" fill="#000" opacity="0.28" filter="url(#b11)"/>
<path d="M422.90,389.30 Q432.85,390.50 442.80,389.30 L442.80,391.30 Q432.85,392.50 422.90,391.30 Z" fill="#000" opacity="0.30" filter="url(#b8)"/>
<path d="M423.40,395.20 Q432.85,397.60 442.30,395.20 L442.30,398.80 Q432.85,401.20 423.40,398.80 Z" fill="#000" opacity="0.41" filter="url(#b9)"/>
<path d="M449.70,389.50 Q460.10,391.10 470.50,389.50 L470.50,398.90 Q460.10,400.50 449.70,398.90 Z" fill="#000" opacity="0.21" filter="url(#b11)"/>
<path d="M449.70,389.30 Q460.10,390.50 470.50,389.30 L470.50,391.30 Q460.10,392.50 449.70,391.30 Z" fill="#000" opacity="0.23" filter="url(#b8)"/>
<path d="M450.20,395.20 Q460.10,397.60 470.00,395.20 L470.00,398.80 Q460.10,401.20 450.20,398.80 Z" fill="#000" opacity="0.32" filter="url(#b9)"/>
<path d="M312.20,410.10 Q323.85,411.70 335.50,410.10 L335.50,415.10 Q323.85,416.70 312.20,415.10 Z" fill="#000" opacity="0.78" filter="url(#b9)"/>
<path d="M340.80,410.10 Q350.85,411.70 360.90,410.10 L360.90,415.10 Q350.85,416.70 340.80,415.10 Z" fill="#000" opacity="0.78" filter="url(#b9)"/>
<path d="M367.20,410.10 Q378.30,411.70 389.40,410.10 L389.40,415.10 Q378.30,416.70 367.20,415.10 Z" fill="#000" opacity="0.75" filter="url(#b9)"/>
<path d="M395.20,410.10 Q405.15,411.70 415.10,410.10 L415.10,415.10 Q405.15,416.70 395.20,415.10 Z" fill="#000" opacity="0.92" filter="url(#b9)"/>
<path d="M420.30,410.10 Q431.10,411.70 441.90,410.10 L441.90,415.10 Q431.10,416.70 420.30,415.10 Z" fill="#000" opacity="0.60" filter="url(#b9)"/>
<path d="M447.10,410.10 Q458.35,411.70 469.60,410.10 L469.60,415.10 Q458.35,416.70 447.10,415.10 Z" fill="#000" opacity="0.60" filter="url(#b9)"/>
<path d="M311.20,426.60 Q323.35,427.40 335.50,426.60 L335.50,433.00 Q323.35,433.80 311.20,433.00 Z" fill="#000" opacity="0.97" filter="url(#b9)"/>
<path d="M339.70,428.20 Q350.80,429.00 361.90,428.20 L361.90,434.60 Q350.80,435.40 339.70,434.60 Z" fill="#000" opacity="0.95" filter="url(#b9)"/>
<path d="M368.30,427.60 Q378.35,428.40 388.40,427.60 L388.40,434.00 Q378.35,434.80 368.30,434.00 Z" fill="#000" opacity="0.92" filter="url(#b9)"/>
<path d="M395.20,427.60 Q405.15,428.40 415.10,427.60 L415.10,434.00 Q405.15,434.80 395.20,434.00 Z" fill="#000" opacity="0.97" filter="url(#b9)"/>
<path d="M420.30,427.40 Q431.10,428.20 441.90,427.40 L441.90,433.80 Q431.10,434.60 420.30,433.80 Z" fill="#000" opacity="0.97" filter="url(#b9)"/>
<path d="M447.10,427.20 Q458.35,428.00 469.60,427.20 L469.60,433.60 Q458.35,434.40 447.10,433.60 Z" fill="#000" opacity="1.00" filter="url(#b9)"/>
<line x1="476.70" y1="343.10" x2="476.70" y2="376.30" stroke="#111" stroke-width="1.2" />
<line x1="476.70" y1="387.60" x2="476.70" y2="437.60" stroke="#111" stroke-width="1.2" />
<text x="480.16" y="362.50" font-size="10.08" textLength="24.82" lengthAdjust="spacingAndGlyphs" fill="#1c1c1c">IP: V5</text>
<text x="480.96" y="415.60" font-size="10.08" textLength="20.24" lengthAdjust="spacingAndGlyphs" fill="#1c1c1c">WCL</text>
<rect x="0.6" y="0.6" width="518.8" height="650.8" fill="none" stroke="#000" stroke-width="1.3"/>
</svg>
</body></html>
